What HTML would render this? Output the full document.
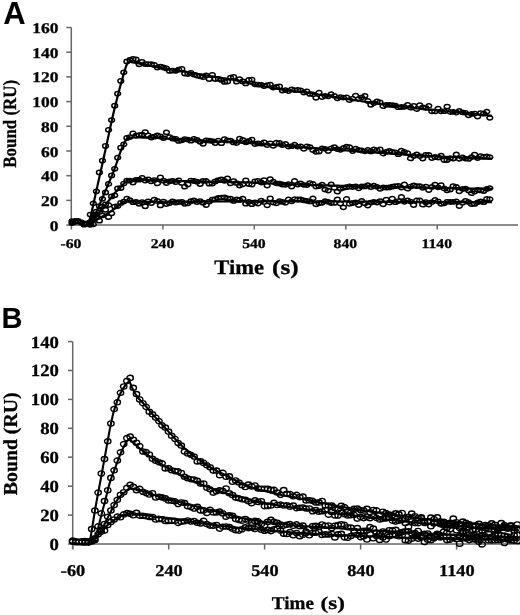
<!DOCTYPE html>
<html><head><meta charset="utf-8"><style>
html,body{margin:0;padding:0;background:#fff;width:520px;height:615px;overflow:hidden}
svg{display:block;filter:grayscale(1) blur(0.3px)}
</style></head><body>
<svg width="520" height="615" viewBox="0 0 520 615">
<g stroke="#666" stroke-width="1.5" fill="none">
<path d="M71.3,27.5 V225 H518"/>
<path d="M66.3,225.1 H71.3"/>
<path d="M66.3,200.4 H71.3"/>
<path d="M66.3,175.7 H71.3"/>
<path d="M66.3,151.0 H71.3"/>
<path d="M66.3,126.3 H71.3"/>
<path d="M66.3,101.6 H71.3"/>
<path d="M66.3,76.9 H71.3"/>
<path d="M66.3,52.2 H71.3"/>
<path d="M66.3,27.5 H71.3"/>
<path d="M71.4,225 V229.5"/>
<path d="M162.9,225 V229.5"/>
<path d="M254.3,225 V229.5"/>
<path d="M345.8,225 V229.5"/>
<path d="M437.2,225 V229.5"/>
</g>
<g stroke="#666" stroke-width="1.5" fill="none">
<path d="M72.7,341.8 V549 M72.7,543.9 H520"/>
<path d="M68,544.0 H72.7"/>
<path d="M68,515.1 H72.7"/>
<path d="M68,486.2 H72.7"/>
<path d="M68,457.2 H72.7"/>
<path d="M68,428.3 H72.7"/>
<path d="M68,399.4 H72.7"/>
<path d="M68,370.5 H72.7"/>
<path d="M68,341.6 H72.7"/>
<path d="M72.7,543.9 V549.5"/>
<path d="M168.7,543.9 V549.5"/>
<path d="M264.6,543.9 V549.5"/>
<path d="M360.6,543.9 V549.5"/>
<path d="M456.6,543.9 V549.5"/>
</g>
<path d="M69.1,223.1a2.9,2.15 0 1,0 5.8,0a2.9,2.15 0 1,0 -5.8,0M72.1,222.0a2.9,2.15 0 1,0 5.8,0a2.9,2.15 0 1,0 -5.8,0M75.2,221.4a2.9,2.15 0 1,0 5.8,0a2.9,2.15 0 1,0 -5.8,0M78.2,222.1a2.9,2.15 0 1,0 5.8,0a2.9,2.15 0 1,0 -5.8,0M81.3,223.5a2.9,2.15 0 1,0 5.8,0a2.9,2.15 0 1,0 -5.8,0M84.3,223.5a2.9,2.15 0 1,0 5.8,0a2.9,2.15 0 1,0 -5.8,0M87.4,214.6a2.9,2.15 0 1,0 5.8,0a2.9,2.15 0 1,0 -5.8,0M90.4,203.4a2.9,2.15 0 1,0 5.8,0a2.9,2.15 0 1,0 -5.8,0M93.5,191.3a2.9,2.15 0 1,0 5.8,0a2.9,2.15 0 1,0 -5.8,0M96.5,172.5a2.9,2.15 0 1,0 5.8,0a2.9,2.15 0 1,0 -5.8,0M99.6,160.7a2.9,2.15 0 1,0 5.8,0a2.9,2.15 0 1,0 -5.8,0M102.6,146.0a2.9,2.15 0 1,0 5.8,0a2.9,2.15 0 1,0 -5.8,0M105.7,129.8a2.9,2.15 0 1,0 5.8,0a2.9,2.15 0 1,0 -5.8,0M108.7,120.1a2.9,2.15 0 1,0 5.8,0a2.9,2.15 0 1,0 -5.8,0M111.8,105.7a2.9,2.15 0 1,0 5.8,0a2.9,2.15 0 1,0 -5.8,0M114.8,93.7a2.9,2.15 0 1,0 5.8,0a2.9,2.15 0 1,0 -5.8,0M117.9,80.9a2.9,2.15 0 1,0 5.8,0a2.9,2.15 0 1,0 -5.8,0M120.9,72.3a2.9,2.15 0 1,0 5.8,0a2.9,2.15 0 1,0 -5.8,0M124.0,61.4a2.9,2.15 0 1,0 5.8,0a2.9,2.15 0 1,0 -5.8,0M127.0,59.9a2.9,2.15 0 1,0 5.8,0a2.9,2.15 0 1,0 -5.8,0M130.1,58.8a2.9,2.15 0 1,0 5.8,0a2.9,2.15 0 1,0 -5.8,0M133.1,59.3a2.9,2.15 0 1,0 5.8,0a2.9,2.15 0 1,0 -5.8,0M136.2,64.3a2.9,2.15 0 1,0 5.8,0a2.9,2.15 0 1,0 -5.8,0M139.2,61.9a2.9,2.15 0 1,0 5.8,0a2.9,2.15 0 1,0 -5.8,0M142.3,64.0a2.9,2.15 0 1,0 5.8,0a2.9,2.15 0 1,0 -5.8,0M145.3,64.2a2.9,2.15 0 1,0 5.8,0a2.9,2.15 0 1,0 -5.8,0M148.4,64.2a2.9,2.15 0 1,0 5.8,0a2.9,2.15 0 1,0 -5.8,0M151.4,64.9a2.9,2.15 0 1,0 5.8,0a2.9,2.15 0 1,0 -5.8,0M154.5,67.6a2.9,2.15 0 1,0 5.8,0a2.9,2.15 0 1,0 -5.8,0M157.5,66.6a2.9,2.15 0 1,0 5.8,0a2.9,2.15 0 1,0 -5.8,0M160.6,67.5a2.9,2.15 0 1,0 5.8,0a2.9,2.15 0 1,0 -5.8,0M163.6,68.4a2.9,2.15 0 1,0 5.8,0a2.9,2.15 0 1,0 -5.8,0M166.7,70.9a2.9,2.15 0 1,0 5.8,0a2.9,2.15 0 1,0 -5.8,0M169.7,70.7a2.9,2.15 0 1,0 5.8,0a2.9,2.15 0 1,0 -5.8,0M172.8,70.8a2.9,2.15 0 1,0 5.8,0a2.9,2.15 0 1,0 -5.8,0M175.8,69.7a2.9,2.15 0 1,0 5.8,0a2.9,2.15 0 1,0 -5.8,0M178.9,68.9a2.9,2.15 0 1,0 5.8,0a2.9,2.15 0 1,0 -5.8,0M181.9,73.5a2.9,2.15 0 1,0 5.8,0a2.9,2.15 0 1,0 -5.8,0M185.0,74.1a2.9,2.15 0 1,0 5.8,0a2.9,2.15 0 1,0 -5.8,0M188.0,72.9a2.9,2.15 0 1,0 5.8,0a2.9,2.15 0 1,0 -5.8,0M191.1,74.6a2.9,2.15 0 1,0 5.8,0a2.9,2.15 0 1,0 -5.8,0M194.1,75.6a2.9,2.15 0 1,0 5.8,0a2.9,2.15 0 1,0 -5.8,0M197.2,76.3a2.9,2.15 0 1,0 5.8,0a2.9,2.15 0 1,0 -5.8,0M200.2,77.1a2.9,2.15 0 1,0 5.8,0a2.9,2.15 0 1,0 -5.8,0M203.3,75.3a2.9,2.15 0 1,0 5.8,0a2.9,2.15 0 1,0 -5.8,0M206.3,79.1a2.9,2.15 0 1,0 5.8,0a2.9,2.15 0 1,0 -5.8,0M209.4,75.0a2.9,2.15 0 1,0 5.8,0a2.9,2.15 0 1,0 -5.8,0M212.4,79.0a2.9,2.15 0 1,0 5.8,0a2.9,2.15 0 1,0 -5.8,0M215.5,78.8a2.9,2.15 0 1,0 5.8,0a2.9,2.15 0 1,0 -5.8,0M218.5,79.9a2.9,2.15 0 1,0 5.8,0a2.9,2.15 0 1,0 -5.8,0M221.6,81.9a2.9,2.15 0 1,0 5.8,0a2.9,2.15 0 1,0 -5.8,0M224.6,81.7a2.9,2.15 0 1,0 5.8,0a2.9,2.15 0 1,0 -5.8,0M227.7,77.6a2.9,2.15 0 1,0 5.8,0a2.9,2.15 0 1,0 -5.8,0M230.7,77.0a2.9,2.15 0 1,0 5.8,0a2.9,2.15 0 1,0 -5.8,0M233.8,81.7a2.9,2.15 0 1,0 5.8,0a2.9,2.15 0 1,0 -5.8,0M236.8,79.1a2.9,2.15 0 1,0 5.8,0a2.9,2.15 0 1,0 -5.8,0M239.9,81.4a2.9,2.15 0 1,0 5.8,0a2.9,2.15 0 1,0 -5.8,0M242.9,83.4a2.9,2.15 0 1,0 5.8,0a2.9,2.15 0 1,0 -5.8,0M246.0,79.9a2.9,2.15 0 1,0 5.8,0a2.9,2.15 0 1,0 -5.8,0M249.0,79.7a2.9,2.15 0 1,0 5.8,0a2.9,2.15 0 1,0 -5.8,0M252.1,84.4a2.9,2.15 0 1,0 5.8,0a2.9,2.15 0 1,0 -5.8,0M255.1,84.7a2.9,2.15 0 1,0 5.8,0a2.9,2.15 0 1,0 -5.8,0M258.2,84.8a2.9,2.15 0 1,0 5.8,0a2.9,2.15 0 1,0 -5.8,0M261.2,86.0a2.9,2.15 0 1,0 5.8,0a2.9,2.15 0 1,0 -5.8,0M264.3,85.1a2.9,2.15 0 1,0 5.8,0a2.9,2.15 0 1,0 -5.8,0M267.3,84.7a2.9,2.15 0 1,0 5.8,0a2.9,2.15 0 1,0 -5.8,0M270.4,87.7a2.9,2.15 0 1,0 5.8,0a2.9,2.15 0 1,0 -5.8,0M273.4,86.9a2.9,2.15 0 1,0 5.8,0a2.9,2.15 0 1,0 -5.8,0M276.5,86.4a2.9,2.15 0 1,0 5.8,0a2.9,2.15 0 1,0 -5.8,0M279.5,90.6a2.9,2.15 0 1,0 5.8,0a2.9,2.15 0 1,0 -5.8,0M282.6,90.1a2.9,2.15 0 1,0 5.8,0a2.9,2.15 0 1,0 -5.8,0M285.6,91.2a2.9,2.15 0 1,0 5.8,0a2.9,2.15 0 1,0 -5.8,0M288.7,89.3a2.9,2.15 0 1,0 5.8,0a2.9,2.15 0 1,0 -5.8,0M291.7,90.2a2.9,2.15 0 1,0 5.8,0a2.9,2.15 0 1,0 -5.8,0M294.8,89.9a2.9,2.15 0 1,0 5.8,0a2.9,2.15 0 1,0 -5.8,0M297.8,90.4a2.9,2.15 0 1,0 5.8,0a2.9,2.15 0 1,0 -5.8,0M300.9,92.6a2.9,2.15 0 1,0 5.8,0a2.9,2.15 0 1,0 -5.8,0M303.9,91.4a2.9,2.15 0 1,0 5.8,0a2.9,2.15 0 1,0 -5.8,0M307.0,93.9a2.9,2.15 0 1,0 5.8,0a2.9,2.15 0 1,0 -5.8,0M310.0,94.4a2.9,2.15 0 1,0 5.8,0a2.9,2.15 0 1,0 -5.8,0M313.1,97.8a2.9,2.15 0 1,0 5.8,0a2.9,2.15 0 1,0 -5.8,0M316.1,92.6a2.9,2.15 0 1,0 5.8,0a2.9,2.15 0 1,0 -5.8,0M319.2,97.0a2.9,2.15 0 1,0 5.8,0a2.9,2.15 0 1,0 -5.8,0M322.2,95.8a2.9,2.15 0 1,0 5.8,0a2.9,2.15 0 1,0 -5.8,0M325.3,96.3a2.9,2.15 0 1,0 5.8,0a2.9,2.15 0 1,0 -5.8,0M328.3,94.1a2.9,2.15 0 1,0 5.8,0a2.9,2.15 0 1,0 -5.8,0M331.4,96.0a2.9,2.15 0 1,0 5.8,0a2.9,2.15 0 1,0 -5.8,0M334.4,98.3a2.9,2.15 0 1,0 5.8,0a2.9,2.15 0 1,0 -5.8,0M337.5,97.1a2.9,2.15 0 1,0 5.8,0a2.9,2.15 0 1,0 -5.8,0M340.5,97.6a2.9,2.15 0 1,0 5.8,0a2.9,2.15 0 1,0 -5.8,0M343.6,97.3a2.9,2.15 0 1,0 5.8,0a2.9,2.15 0 1,0 -5.8,0M346.6,100.2a2.9,2.15 0 1,0 5.8,0a2.9,2.15 0 1,0 -5.8,0M349.7,98.7a2.9,2.15 0 1,0 5.8,0a2.9,2.15 0 1,0 -5.8,0M352.7,95.6a2.9,2.15 0 1,0 5.8,0a2.9,2.15 0 1,0 -5.8,0M355.8,98.8a2.9,2.15 0 1,0 5.8,0a2.9,2.15 0 1,0 -5.8,0M358.8,97.3a2.9,2.15 0 1,0 5.8,0a2.9,2.15 0 1,0 -5.8,0M361.9,95.8a2.9,2.15 0 1,0 5.8,0a2.9,2.15 0 1,0 -5.8,0M364.9,101.0a2.9,2.15 0 1,0 5.8,0a2.9,2.15 0 1,0 -5.8,0M368.0,104.8a2.9,2.15 0 1,0 5.8,0a2.9,2.15 0 1,0 -5.8,0M371.0,103.1a2.9,2.15 0 1,0 5.8,0a2.9,2.15 0 1,0 -5.8,0M374.1,101.5a2.9,2.15 0 1,0 5.8,0a2.9,2.15 0 1,0 -5.8,0M377.1,102.3a2.9,2.15 0 1,0 5.8,0a2.9,2.15 0 1,0 -5.8,0M380.2,106.2a2.9,2.15 0 1,0 5.8,0a2.9,2.15 0 1,0 -5.8,0M383.2,104.8a2.9,2.15 0 1,0 5.8,0a2.9,2.15 0 1,0 -5.8,0M386.3,104.9a2.9,2.15 0 1,0 5.8,0a2.9,2.15 0 1,0 -5.8,0M389.3,105.1a2.9,2.15 0 1,0 5.8,0a2.9,2.15 0 1,0 -5.8,0M392.4,105.6a2.9,2.15 0 1,0 5.8,0a2.9,2.15 0 1,0 -5.8,0M395.4,107.2a2.9,2.15 0 1,0 5.8,0a2.9,2.15 0 1,0 -5.8,0M398.5,107.0a2.9,2.15 0 1,0 5.8,0a2.9,2.15 0 1,0 -5.8,0M401.5,106.8a2.9,2.15 0 1,0 5.8,0a2.9,2.15 0 1,0 -5.8,0M404.6,104.8a2.9,2.15 0 1,0 5.8,0a2.9,2.15 0 1,0 -5.8,0M407.6,107.7a2.9,2.15 0 1,0 5.8,0a2.9,2.15 0 1,0 -5.8,0M410.7,105.8a2.9,2.15 0 1,0 5.8,0a2.9,2.15 0 1,0 -5.8,0M413.7,109.0a2.9,2.15 0 1,0 5.8,0a2.9,2.15 0 1,0 -5.8,0M416.8,105.1a2.9,2.15 0 1,0 5.8,0a2.9,2.15 0 1,0 -5.8,0M419.8,107.3a2.9,2.15 0 1,0 5.8,0a2.9,2.15 0 1,0 -5.8,0M422.9,107.8a2.9,2.15 0 1,0 5.8,0a2.9,2.15 0 1,0 -5.8,0M425.9,105.8a2.9,2.15 0 1,0 5.8,0a2.9,2.15 0 1,0 -5.8,0M429.0,111.4a2.9,2.15 0 1,0 5.8,0a2.9,2.15 0 1,0 -5.8,0M432.0,111.4a2.9,2.15 0 1,0 5.8,0a2.9,2.15 0 1,0 -5.8,0M435.1,108.6a2.9,2.15 0 1,0 5.8,0a2.9,2.15 0 1,0 -5.8,0M438.1,111.3a2.9,2.15 0 1,0 5.8,0a2.9,2.15 0 1,0 -5.8,0M441.2,111.2a2.9,2.15 0 1,0 5.8,0a2.9,2.15 0 1,0 -5.8,0M444.2,106.6a2.9,2.15 0 1,0 5.8,0a2.9,2.15 0 1,0 -5.8,0M447.3,112.0a2.9,2.15 0 1,0 5.8,0a2.9,2.15 0 1,0 -5.8,0M450.3,111.9a2.9,2.15 0 1,0 5.8,0a2.9,2.15 0 1,0 -5.8,0M453.4,112.5a2.9,2.15 0 1,0 5.8,0a2.9,2.15 0 1,0 -5.8,0M456.4,110.9a2.9,2.15 0 1,0 5.8,0a2.9,2.15 0 1,0 -5.8,0M459.5,112.4a2.9,2.15 0 1,0 5.8,0a2.9,2.15 0 1,0 -5.8,0M462.5,112.8a2.9,2.15 0 1,0 5.8,0a2.9,2.15 0 1,0 -5.8,0M465.6,115.3a2.9,2.15 0 1,0 5.8,0a2.9,2.15 0 1,0 -5.8,0M468.6,114.0a2.9,2.15 0 1,0 5.8,0a2.9,2.15 0 1,0 -5.8,0M471.7,113.6a2.9,2.15 0 1,0 5.8,0a2.9,2.15 0 1,0 -5.8,0M474.7,116.5a2.9,2.15 0 1,0 5.8,0a2.9,2.15 0 1,0 -5.8,0M477.8,113.2a2.9,2.15 0 1,0 5.8,0a2.9,2.15 0 1,0 -5.8,0M480.8,113.7a2.9,2.15 0 1,0 5.8,0a2.9,2.15 0 1,0 -5.8,0M483.9,111.6a2.9,2.15 0 1,0 5.8,0a2.9,2.15 0 1,0 -5.8,0M486.9,117.8a2.9,2.15 0 1,0 5.8,0a2.9,2.15 0 1,0 -5.8,0M69.1,221.1a2.9,2.15 0 1,0 5.8,0a2.9,2.15 0 1,0 -5.8,0M72.1,222.2a2.9,2.15 0 1,0 5.8,0a2.9,2.15 0 1,0 -5.8,0M75.2,221.2a2.9,2.15 0 1,0 5.8,0a2.9,2.15 0 1,0 -5.8,0M78.2,222.7a2.9,2.15 0 1,0 5.8,0a2.9,2.15 0 1,0 -5.8,0M81.3,224.5a2.9,2.15 0 1,0 5.8,0a2.9,2.15 0 1,0 -5.8,0M84.3,223.8a2.9,2.15 0 1,0 5.8,0a2.9,2.15 0 1,0 -5.8,0M87.4,222.1a2.9,2.15 0 1,0 5.8,0a2.9,2.15 0 1,0 -5.8,0M90.4,217.1a2.9,2.15 0 1,0 5.8,0a2.9,2.15 0 1,0 -5.8,0M93.5,211.6a2.9,2.15 0 1,0 5.8,0a2.9,2.15 0 1,0 -5.8,0M96.5,206.1a2.9,2.15 0 1,0 5.8,0a2.9,2.15 0 1,0 -5.8,0M99.6,198.8a2.9,2.15 0 1,0 5.8,0a2.9,2.15 0 1,0 -5.8,0M102.6,192.4a2.9,2.15 0 1,0 5.8,0a2.9,2.15 0 1,0 -5.8,0M105.7,184.0a2.9,2.15 0 1,0 5.8,0a2.9,2.15 0 1,0 -5.8,0M108.7,175.5a2.9,2.15 0 1,0 5.8,0a2.9,2.15 0 1,0 -5.8,0M111.8,168.8a2.9,2.15 0 1,0 5.8,0a2.9,2.15 0 1,0 -5.8,0M114.8,157.7a2.9,2.15 0 1,0 5.8,0a2.9,2.15 0 1,0 -5.8,0M117.9,147.7a2.9,2.15 0 1,0 5.8,0a2.9,2.15 0 1,0 -5.8,0M120.9,144.3a2.9,2.15 0 1,0 5.8,0a2.9,2.15 0 1,0 -5.8,0M124.0,138.0a2.9,2.15 0 1,0 5.8,0a2.9,2.15 0 1,0 -5.8,0M127.0,137.1a2.9,2.15 0 1,0 5.8,0a2.9,2.15 0 1,0 -5.8,0M130.1,133.5a2.9,2.15 0 1,0 5.8,0a2.9,2.15 0 1,0 -5.8,0M133.1,135.6a2.9,2.15 0 1,0 5.8,0a2.9,2.15 0 1,0 -5.8,0M136.2,135.1a2.9,2.15 0 1,0 5.8,0a2.9,2.15 0 1,0 -5.8,0M139.2,134.6a2.9,2.15 0 1,0 5.8,0a2.9,2.15 0 1,0 -5.8,0M142.3,132.1a2.9,2.15 0 1,0 5.8,0a2.9,2.15 0 1,0 -5.8,0M145.3,135.4a2.9,2.15 0 1,0 5.8,0a2.9,2.15 0 1,0 -5.8,0M148.4,137.5a2.9,2.15 0 1,0 5.8,0a2.9,2.15 0 1,0 -5.8,0M151.4,136.7a2.9,2.15 0 1,0 5.8,0a2.9,2.15 0 1,0 -5.8,0M154.5,135.3a2.9,2.15 0 1,0 5.8,0a2.9,2.15 0 1,0 -5.8,0M157.5,136.5a2.9,2.15 0 1,0 5.8,0a2.9,2.15 0 1,0 -5.8,0M160.6,138.1a2.9,2.15 0 1,0 5.8,0a2.9,2.15 0 1,0 -5.8,0M163.6,132.3a2.9,2.15 0 1,0 5.8,0a2.9,2.15 0 1,0 -5.8,0M166.7,137.1a2.9,2.15 0 1,0 5.8,0a2.9,2.15 0 1,0 -5.8,0M169.7,138.5a2.9,2.15 0 1,0 5.8,0a2.9,2.15 0 1,0 -5.8,0M172.8,139.0a2.9,2.15 0 1,0 5.8,0a2.9,2.15 0 1,0 -5.8,0M175.8,140.9a2.9,2.15 0 1,0 5.8,0a2.9,2.15 0 1,0 -5.8,0M178.9,140.3a2.9,2.15 0 1,0 5.8,0a2.9,2.15 0 1,0 -5.8,0M181.9,139.2a2.9,2.15 0 1,0 5.8,0a2.9,2.15 0 1,0 -5.8,0M185.0,139.6a2.9,2.15 0 1,0 5.8,0a2.9,2.15 0 1,0 -5.8,0M188.0,140.7a2.9,2.15 0 1,0 5.8,0a2.9,2.15 0 1,0 -5.8,0M191.1,138.8a2.9,2.15 0 1,0 5.8,0a2.9,2.15 0 1,0 -5.8,0M194.1,139.9a2.9,2.15 0 1,0 5.8,0a2.9,2.15 0 1,0 -5.8,0M197.2,141.8a2.9,2.15 0 1,0 5.8,0a2.9,2.15 0 1,0 -5.8,0M200.2,143.8a2.9,2.15 0 1,0 5.8,0a2.9,2.15 0 1,0 -5.8,0M203.3,140.4a2.9,2.15 0 1,0 5.8,0a2.9,2.15 0 1,0 -5.8,0M206.3,140.6a2.9,2.15 0 1,0 5.8,0a2.9,2.15 0 1,0 -5.8,0M209.4,141.1a2.9,2.15 0 1,0 5.8,0a2.9,2.15 0 1,0 -5.8,0M212.4,143.0a2.9,2.15 0 1,0 5.8,0a2.9,2.15 0 1,0 -5.8,0M215.5,140.7a2.9,2.15 0 1,0 5.8,0a2.9,2.15 0 1,0 -5.8,0M218.5,143.2a2.9,2.15 0 1,0 5.8,0a2.9,2.15 0 1,0 -5.8,0M221.6,139.1a2.9,2.15 0 1,0 5.8,0a2.9,2.15 0 1,0 -5.8,0M224.6,140.5a2.9,2.15 0 1,0 5.8,0a2.9,2.15 0 1,0 -5.8,0M227.7,140.6a2.9,2.15 0 1,0 5.8,0a2.9,2.15 0 1,0 -5.8,0M230.7,142.4a2.9,2.15 0 1,0 5.8,0a2.9,2.15 0 1,0 -5.8,0M233.8,143.0a2.9,2.15 0 1,0 5.8,0a2.9,2.15 0 1,0 -5.8,0M236.8,138.7a2.9,2.15 0 1,0 5.8,0a2.9,2.15 0 1,0 -5.8,0M239.9,139.9a2.9,2.15 0 1,0 5.8,0a2.9,2.15 0 1,0 -5.8,0M242.9,142.3a2.9,2.15 0 1,0 5.8,0a2.9,2.15 0 1,0 -5.8,0M246.0,140.8a2.9,2.15 0 1,0 5.8,0a2.9,2.15 0 1,0 -5.8,0M249.0,139.6a2.9,2.15 0 1,0 5.8,0a2.9,2.15 0 1,0 -5.8,0M252.1,144.1a2.9,2.15 0 1,0 5.8,0a2.9,2.15 0 1,0 -5.8,0M255.1,143.4a2.9,2.15 0 1,0 5.8,0a2.9,2.15 0 1,0 -5.8,0M258.2,143.7a2.9,2.15 0 1,0 5.8,0a2.9,2.15 0 1,0 -5.8,0M261.2,142.4a2.9,2.15 0 1,0 5.8,0a2.9,2.15 0 1,0 -5.8,0M264.3,145.2a2.9,2.15 0 1,0 5.8,0a2.9,2.15 0 1,0 -5.8,0M267.3,143.3a2.9,2.15 0 1,0 5.8,0a2.9,2.15 0 1,0 -5.8,0M270.4,145.9a2.9,2.15 0 1,0 5.8,0a2.9,2.15 0 1,0 -5.8,0M273.4,142.6a2.9,2.15 0 1,0 5.8,0a2.9,2.15 0 1,0 -5.8,0M276.5,142.9a2.9,2.15 0 1,0 5.8,0a2.9,2.15 0 1,0 -5.8,0M279.5,145.0a2.9,2.15 0 1,0 5.8,0a2.9,2.15 0 1,0 -5.8,0M282.6,143.8a2.9,2.15 0 1,0 5.8,0a2.9,2.15 0 1,0 -5.8,0M285.6,146.5a2.9,2.15 0 1,0 5.8,0a2.9,2.15 0 1,0 -5.8,0M288.7,146.2a2.9,2.15 0 1,0 5.8,0a2.9,2.15 0 1,0 -5.8,0M291.7,144.6a2.9,2.15 0 1,0 5.8,0a2.9,2.15 0 1,0 -5.8,0M294.8,146.6a2.9,2.15 0 1,0 5.8,0a2.9,2.15 0 1,0 -5.8,0M297.8,146.3a2.9,2.15 0 1,0 5.8,0a2.9,2.15 0 1,0 -5.8,0M300.9,148.9a2.9,2.15 0 1,0 5.8,0a2.9,2.15 0 1,0 -5.8,0M303.9,146.5a2.9,2.15 0 1,0 5.8,0a2.9,2.15 0 1,0 -5.8,0M307.0,147.1a2.9,2.15 0 1,0 5.8,0a2.9,2.15 0 1,0 -5.8,0M310.0,150.1a2.9,2.15 0 1,0 5.8,0a2.9,2.15 0 1,0 -5.8,0M313.1,151.9a2.9,2.15 0 1,0 5.8,0a2.9,2.15 0 1,0 -5.8,0M316.1,151.6a2.9,2.15 0 1,0 5.8,0a2.9,2.15 0 1,0 -5.8,0M319.2,148.4a2.9,2.15 0 1,0 5.8,0a2.9,2.15 0 1,0 -5.8,0M322.2,148.8a2.9,2.15 0 1,0 5.8,0a2.9,2.15 0 1,0 -5.8,0M325.3,151.1a2.9,2.15 0 1,0 5.8,0a2.9,2.15 0 1,0 -5.8,0M328.3,148.4a2.9,2.15 0 1,0 5.8,0a2.9,2.15 0 1,0 -5.8,0M331.4,147.1a2.9,2.15 0 1,0 5.8,0a2.9,2.15 0 1,0 -5.8,0M334.4,149.2a2.9,2.15 0 1,0 5.8,0a2.9,2.15 0 1,0 -5.8,0M337.5,149.9a2.9,2.15 0 1,0 5.8,0a2.9,2.15 0 1,0 -5.8,0M340.5,148.0a2.9,2.15 0 1,0 5.8,0a2.9,2.15 0 1,0 -5.8,0M343.6,146.7a2.9,2.15 0 1,0 5.8,0a2.9,2.15 0 1,0 -5.8,0M346.6,147.2a2.9,2.15 0 1,0 5.8,0a2.9,2.15 0 1,0 -5.8,0M349.7,151.0a2.9,2.15 0 1,0 5.8,0a2.9,2.15 0 1,0 -5.8,0M352.7,148.6a2.9,2.15 0 1,0 5.8,0a2.9,2.15 0 1,0 -5.8,0M355.8,149.8a2.9,2.15 0 1,0 5.8,0a2.9,2.15 0 1,0 -5.8,0M358.8,150.5a2.9,2.15 0 1,0 5.8,0a2.9,2.15 0 1,0 -5.8,0M361.9,151.3a2.9,2.15 0 1,0 5.8,0a2.9,2.15 0 1,0 -5.8,0M364.9,149.8a2.9,2.15 0 1,0 5.8,0a2.9,2.15 0 1,0 -5.8,0M368.0,151.4a2.9,2.15 0 1,0 5.8,0a2.9,2.15 0 1,0 -5.8,0M371.0,149.3a2.9,2.15 0 1,0 5.8,0a2.9,2.15 0 1,0 -5.8,0M374.1,150.4a2.9,2.15 0 1,0 5.8,0a2.9,2.15 0 1,0 -5.8,0M377.1,149.5a2.9,2.15 0 1,0 5.8,0a2.9,2.15 0 1,0 -5.8,0M380.2,153.5a2.9,2.15 0 1,0 5.8,0a2.9,2.15 0 1,0 -5.8,0M383.2,151.8a2.9,2.15 0 1,0 5.8,0a2.9,2.15 0 1,0 -5.8,0M386.3,150.9a2.9,2.15 0 1,0 5.8,0a2.9,2.15 0 1,0 -5.8,0M389.3,151.9a2.9,2.15 0 1,0 5.8,0a2.9,2.15 0 1,0 -5.8,0M392.4,152.3a2.9,2.15 0 1,0 5.8,0a2.9,2.15 0 1,0 -5.8,0M395.4,154.2a2.9,2.15 0 1,0 5.8,0a2.9,2.15 0 1,0 -5.8,0M398.5,150.6a2.9,2.15 0 1,0 5.8,0a2.9,2.15 0 1,0 -5.8,0M401.5,151.8a2.9,2.15 0 1,0 5.8,0a2.9,2.15 0 1,0 -5.8,0M404.6,153.2a2.9,2.15 0 1,0 5.8,0a2.9,2.15 0 1,0 -5.8,0M407.6,158.4a2.9,2.15 0 1,0 5.8,0a2.9,2.15 0 1,0 -5.8,0M410.7,156.0a2.9,2.15 0 1,0 5.8,0a2.9,2.15 0 1,0 -5.8,0M413.7,154.4a2.9,2.15 0 1,0 5.8,0a2.9,2.15 0 1,0 -5.8,0M416.8,156.1a2.9,2.15 0 1,0 5.8,0a2.9,2.15 0 1,0 -5.8,0M419.8,158.6a2.9,2.15 0 1,0 5.8,0a2.9,2.15 0 1,0 -5.8,0M422.9,155.0a2.9,2.15 0 1,0 5.8,0a2.9,2.15 0 1,0 -5.8,0M425.9,155.0a2.9,2.15 0 1,0 5.8,0a2.9,2.15 0 1,0 -5.8,0M429.0,158.0a2.9,2.15 0 1,0 5.8,0a2.9,2.15 0 1,0 -5.8,0M432.0,157.0a2.9,2.15 0 1,0 5.8,0a2.9,2.15 0 1,0 -5.8,0M435.1,157.5a2.9,2.15 0 1,0 5.8,0a2.9,2.15 0 1,0 -5.8,0M438.1,155.7a2.9,2.15 0 1,0 5.8,0a2.9,2.15 0 1,0 -5.8,0M441.2,160.1a2.9,2.15 0 1,0 5.8,0a2.9,2.15 0 1,0 -5.8,0M444.2,160.0a2.9,2.15 0 1,0 5.8,0a2.9,2.15 0 1,0 -5.8,0M447.3,158.2a2.9,2.15 0 1,0 5.8,0a2.9,2.15 0 1,0 -5.8,0M450.3,158.6a2.9,2.15 0 1,0 5.8,0a2.9,2.15 0 1,0 -5.8,0M453.4,154.3a2.9,2.15 0 1,0 5.8,0a2.9,2.15 0 1,0 -5.8,0M456.4,158.8a2.9,2.15 0 1,0 5.8,0a2.9,2.15 0 1,0 -5.8,0M459.5,157.5a2.9,2.15 0 1,0 5.8,0a2.9,2.15 0 1,0 -5.8,0M462.5,158.6a2.9,2.15 0 1,0 5.8,0a2.9,2.15 0 1,0 -5.8,0M465.6,158.9a2.9,2.15 0 1,0 5.8,0a2.9,2.15 0 1,0 -5.8,0M468.6,157.1a2.9,2.15 0 1,0 5.8,0a2.9,2.15 0 1,0 -5.8,0M471.7,154.7a2.9,2.15 0 1,0 5.8,0a2.9,2.15 0 1,0 -5.8,0M474.7,158.1a2.9,2.15 0 1,0 5.8,0a2.9,2.15 0 1,0 -5.8,0M477.8,156.1a2.9,2.15 0 1,0 5.8,0a2.9,2.15 0 1,0 -5.8,0M480.8,156.8a2.9,2.15 0 1,0 5.8,0a2.9,2.15 0 1,0 -5.8,0M483.9,156.5a2.9,2.15 0 1,0 5.8,0a2.9,2.15 0 1,0 -5.8,0M486.9,157.2a2.9,2.15 0 1,0 5.8,0a2.9,2.15 0 1,0 -5.8,0M69.1,222.5a2.9,2.15 0 1,0 5.8,0a2.9,2.15 0 1,0 -5.8,0M72.1,220.9a2.9,2.15 0 1,0 5.8,0a2.9,2.15 0 1,0 -5.8,0M75.2,221.0a2.9,2.15 0 1,0 5.8,0a2.9,2.15 0 1,0 -5.8,0M78.2,222.1a2.9,2.15 0 1,0 5.8,0a2.9,2.15 0 1,0 -5.8,0M81.3,224.7a2.9,2.15 0 1,0 5.8,0a2.9,2.15 0 1,0 -5.8,0M84.3,223.3a2.9,2.15 0 1,0 5.8,0a2.9,2.15 0 1,0 -5.8,0M87.4,223.3a2.9,2.15 0 1,0 5.8,0a2.9,2.15 0 1,0 -5.8,0M90.4,219.2a2.9,2.15 0 1,0 5.8,0a2.9,2.15 0 1,0 -5.8,0M93.5,214.7a2.9,2.15 0 1,0 5.8,0a2.9,2.15 0 1,0 -5.8,0M96.5,212.1a2.9,2.15 0 1,0 5.8,0a2.9,2.15 0 1,0 -5.8,0M99.6,206.6a2.9,2.15 0 1,0 5.8,0a2.9,2.15 0 1,0 -5.8,0M102.6,204.5a2.9,2.15 0 1,0 5.8,0a2.9,2.15 0 1,0 -5.8,0M105.7,205.0a2.9,2.15 0 1,0 5.8,0a2.9,2.15 0 1,0 -5.8,0M108.7,196.4a2.9,2.15 0 1,0 5.8,0a2.9,2.15 0 1,0 -5.8,0M111.8,195.3a2.9,2.15 0 1,0 5.8,0a2.9,2.15 0 1,0 -5.8,0M114.8,188.4a2.9,2.15 0 1,0 5.8,0a2.9,2.15 0 1,0 -5.8,0M117.9,188.0a2.9,2.15 0 1,0 5.8,0a2.9,2.15 0 1,0 -5.8,0M120.9,183.6a2.9,2.15 0 1,0 5.8,0a2.9,2.15 0 1,0 -5.8,0M124.0,180.6a2.9,2.15 0 1,0 5.8,0a2.9,2.15 0 1,0 -5.8,0M127.0,180.6a2.9,2.15 0 1,0 5.8,0a2.9,2.15 0 1,0 -5.8,0M130.1,182.6a2.9,2.15 0 1,0 5.8,0a2.9,2.15 0 1,0 -5.8,0M133.1,179.8a2.9,2.15 0 1,0 5.8,0a2.9,2.15 0 1,0 -5.8,0M136.2,179.7a2.9,2.15 0 1,0 5.8,0a2.9,2.15 0 1,0 -5.8,0M139.2,177.8a2.9,2.15 0 1,0 5.8,0a2.9,2.15 0 1,0 -5.8,0M142.3,180.5a2.9,2.15 0 1,0 5.8,0a2.9,2.15 0 1,0 -5.8,0M145.3,179.3a2.9,2.15 0 1,0 5.8,0a2.9,2.15 0 1,0 -5.8,0M148.4,181.3a2.9,2.15 0 1,0 5.8,0a2.9,2.15 0 1,0 -5.8,0M151.4,180.1a2.9,2.15 0 1,0 5.8,0a2.9,2.15 0 1,0 -5.8,0M154.5,183.4a2.9,2.15 0 1,0 5.8,0a2.9,2.15 0 1,0 -5.8,0M157.5,177.4a2.9,2.15 0 1,0 5.8,0a2.9,2.15 0 1,0 -5.8,0M160.6,180.7a2.9,2.15 0 1,0 5.8,0a2.9,2.15 0 1,0 -5.8,0M163.6,183.1a2.9,2.15 0 1,0 5.8,0a2.9,2.15 0 1,0 -5.8,0M166.7,181.3a2.9,2.15 0 1,0 5.8,0a2.9,2.15 0 1,0 -5.8,0M169.7,180.9a2.9,2.15 0 1,0 5.8,0a2.9,2.15 0 1,0 -5.8,0M172.8,182.0a2.9,2.15 0 1,0 5.8,0a2.9,2.15 0 1,0 -5.8,0M175.8,180.3a2.9,2.15 0 1,0 5.8,0a2.9,2.15 0 1,0 -5.8,0M178.9,182.9a2.9,2.15 0 1,0 5.8,0a2.9,2.15 0 1,0 -5.8,0M181.9,186.7a2.9,2.15 0 1,0 5.8,0a2.9,2.15 0 1,0 -5.8,0M185.0,184.5a2.9,2.15 0 1,0 5.8,0a2.9,2.15 0 1,0 -5.8,0M188.0,180.6a2.9,2.15 0 1,0 5.8,0a2.9,2.15 0 1,0 -5.8,0M191.1,181.0a2.9,2.15 0 1,0 5.8,0a2.9,2.15 0 1,0 -5.8,0M194.1,181.7a2.9,2.15 0 1,0 5.8,0a2.9,2.15 0 1,0 -5.8,0M197.2,184.0a2.9,2.15 0 1,0 5.8,0a2.9,2.15 0 1,0 -5.8,0M200.2,180.8a2.9,2.15 0 1,0 5.8,0a2.9,2.15 0 1,0 -5.8,0M203.3,181.0a2.9,2.15 0 1,0 5.8,0a2.9,2.15 0 1,0 -5.8,0M206.3,183.7a2.9,2.15 0 1,0 5.8,0a2.9,2.15 0 1,0 -5.8,0M209.4,183.6a2.9,2.15 0 1,0 5.8,0a2.9,2.15 0 1,0 -5.8,0M212.4,181.4a2.9,2.15 0 1,0 5.8,0a2.9,2.15 0 1,0 -5.8,0M215.5,180.1a2.9,2.15 0 1,0 5.8,0a2.9,2.15 0 1,0 -5.8,0M218.5,179.4a2.9,2.15 0 1,0 5.8,0a2.9,2.15 0 1,0 -5.8,0M221.6,180.8a2.9,2.15 0 1,0 5.8,0a2.9,2.15 0 1,0 -5.8,0M224.6,178.3a2.9,2.15 0 1,0 5.8,0a2.9,2.15 0 1,0 -5.8,0M227.7,183.4a2.9,2.15 0 1,0 5.8,0a2.9,2.15 0 1,0 -5.8,0M230.7,181.1a2.9,2.15 0 1,0 5.8,0a2.9,2.15 0 1,0 -5.8,0M233.8,183.1a2.9,2.15 0 1,0 5.8,0a2.9,2.15 0 1,0 -5.8,0M236.8,185.6a2.9,2.15 0 1,0 5.8,0a2.9,2.15 0 1,0 -5.8,0M239.9,184.4a2.9,2.15 0 1,0 5.8,0a2.9,2.15 0 1,0 -5.8,0M242.9,180.5a2.9,2.15 0 1,0 5.8,0a2.9,2.15 0 1,0 -5.8,0M246.0,184.0a2.9,2.15 0 1,0 5.8,0a2.9,2.15 0 1,0 -5.8,0M249.0,184.5a2.9,2.15 0 1,0 5.8,0a2.9,2.15 0 1,0 -5.8,0M252.1,181.3a2.9,2.15 0 1,0 5.8,0a2.9,2.15 0 1,0 -5.8,0M255.1,181.0a2.9,2.15 0 1,0 5.8,0a2.9,2.15 0 1,0 -5.8,0M258.2,182.5a2.9,2.15 0 1,0 5.8,0a2.9,2.15 0 1,0 -5.8,0M261.2,180.1a2.9,2.15 0 1,0 5.8,0a2.9,2.15 0 1,0 -5.8,0M264.3,185.6a2.9,2.15 0 1,0 5.8,0a2.9,2.15 0 1,0 -5.8,0M267.3,179.2a2.9,2.15 0 1,0 5.8,0a2.9,2.15 0 1,0 -5.8,0M270.4,181.7a2.9,2.15 0 1,0 5.8,0a2.9,2.15 0 1,0 -5.8,0M273.4,183.4a2.9,2.15 0 1,0 5.8,0a2.9,2.15 0 1,0 -5.8,0M276.5,183.7a2.9,2.15 0 1,0 5.8,0a2.9,2.15 0 1,0 -5.8,0M279.5,184.5a2.9,2.15 0 1,0 5.8,0a2.9,2.15 0 1,0 -5.8,0M282.6,184.9a2.9,2.15 0 1,0 5.8,0a2.9,2.15 0 1,0 -5.8,0M285.6,184.2a2.9,2.15 0 1,0 5.8,0a2.9,2.15 0 1,0 -5.8,0M288.7,186.6a2.9,2.15 0 1,0 5.8,0a2.9,2.15 0 1,0 -5.8,0M291.7,181.0a2.9,2.15 0 1,0 5.8,0a2.9,2.15 0 1,0 -5.8,0M294.8,184.6a2.9,2.15 0 1,0 5.8,0a2.9,2.15 0 1,0 -5.8,0M297.8,183.4a2.9,2.15 0 1,0 5.8,0a2.9,2.15 0 1,0 -5.8,0M300.9,184.9a2.9,2.15 0 1,0 5.8,0a2.9,2.15 0 1,0 -5.8,0M303.9,185.1a2.9,2.15 0 1,0 5.8,0a2.9,2.15 0 1,0 -5.8,0M307.0,183.2a2.9,2.15 0 1,0 5.8,0a2.9,2.15 0 1,0 -5.8,0M310.0,183.9a2.9,2.15 0 1,0 5.8,0a2.9,2.15 0 1,0 -5.8,0M313.1,186.6a2.9,2.15 0 1,0 5.8,0a2.9,2.15 0 1,0 -5.8,0M316.1,186.1a2.9,2.15 0 1,0 5.8,0a2.9,2.15 0 1,0 -5.8,0M319.2,184.7a2.9,2.15 0 1,0 5.8,0a2.9,2.15 0 1,0 -5.8,0M322.2,189.7a2.9,2.15 0 1,0 5.8,0a2.9,2.15 0 1,0 -5.8,0M325.3,190.6a2.9,2.15 0 1,0 5.8,0a2.9,2.15 0 1,0 -5.8,0M328.3,184.5a2.9,2.15 0 1,0 5.8,0a2.9,2.15 0 1,0 -5.8,0M331.4,187.8a2.9,2.15 0 1,0 5.8,0a2.9,2.15 0 1,0 -5.8,0M334.4,191.7a2.9,2.15 0 1,0 5.8,0a2.9,2.15 0 1,0 -5.8,0M337.5,188.8a2.9,2.15 0 1,0 5.8,0a2.9,2.15 0 1,0 -5.8,0M340.5,187.9a2.9,2.15 0 1,0 5.8,0a2.9,2.15 0 1,0 -5.8,0M343.6,187.2a2.9,2.15 0 1,0 5.8,0a2.9,2.15 0 1,0 -5.8,0M346.6,186.5a2.9,2.15 0 1,0 5.8,0a2.9,2.15 0 1,0 -5.8,0M349.7,187.0a2.9,2.15 0 1,0 5.8,0a2.9,2.15 0 1,0 -5.8,0M352.7,186.3a2.9,2.15 0 1,0 5.8,0a2.9,2.15 0 1,0 -5.8,0M355.8,188.4a2.9,2.15 0 1,0 5.8,0a2.9,2.15 0 1,0 -5.8,0M358.8,186.5a2.9,2.15 0 1,0 5.8,0a2.9,2.15 0 1,0 -5.8,0M361.9,186.4a2.9,2.15 0 1,0 5.8,0a2.9,2.15 0 1,0 -5.8,0M364.9,185.1a2.9,2.15 0 1,0 5.8,0a2.9,2.15 0 1,0 -5.8,0M368.0,187.0a2.9,2.15 0 1,0 5.8,0a2.9,2.15 0 1,0 -5.8,0M371.0,185.6a2.9,2.15 0 1,0 5.8,0a2.9,2.15 0 1,0 -5.8,0M374.1,186.8a2.9,2.15 0 1,0 5.8,0a2.9,2.15 0 1,0 -5.8,0M377.1,188.8a2.9,2.15 0 1,0 5.8,0a2.9,2.15 0 1,0 -5.8,0M380.2,187.5a2.9,2.15 0 1,0 5.8,0a2.9,2.15 0 1,0 -5.8,0M383.2,187.7a2.9,2.15 0 1,0 5.8,0a2.9,2.15 0 1,0 -5.8,0M386.3,187.4a2.9,2.15 0 1,0 5.8,0a2.9,2.15 0 1,0 -5.8,0M389.3,186.7a2.9,2.15 0 1,0 5.8,0a2.9,2.15 0 1,0 -5.8,0M392.4,186.2a2.9,2.15 0 1,0 5.8,0a2.9,2.15 0 1,0 -5.8,0M395.4,185.8a2.9,2.15 0 1,0 5.8,0a2.9,2.15 0 1,0 -5.8,0M398.5,187.6a2.9,2.15 0 1,0 5.8,0a2.9,2.15 0 1,0 -5.8,0M401.5,184.5a2.9,2.15 0 1,0 5.8,0a2.9,2.15 0 1,0 -5.8,0M404.6,188.7a2.9,2.15 0 1,0 5.8,0a2.9,2.15 0 1,0 -5.8,0M407.6,186.6a2.9,2.15 0 1,0 5.8,0a2.9,2.15 0 1,0 -5.8,0M410.7,185.4a2.9,2.15 0 1,0 5.8,0a2.9,2.15 0 1,0 -5.8,0M413.7,186.1a2.9,2.15 0 1,0 5.8,0a2.9,2.15 0 1,0 -5.8,0M416.8,186.1a2.9,2.15 0 1,0 5.8,0a2.9,2.15 0 1,0 -5.8,0M419.8,187.8a2.9,2.15 0 1,0 5.8,0a2.9,2.15 0 1,0 -5.8,0M422.9,186.6a2.9,2.15 0 1,0 5.8,0a2.9,2.15 0 1,0 -5.8,0M425.9,190.0a2.9,2.15 0 1,0 5.8,0a2.9,2.15 0 1,0 -5.8,0M429.0,187.0a2.9,2.15 0 1,0 5.8,0a2.9,2.15 0 1,0 -5.8,0M432.0,184.6a2.9,2.15 0 1,0 5.8,0a2.9,2.15 0 1,0 -5.8,0M435.1,187.3a2.9,2.15 0 1,0 5.8,0a2.9,2.15 0 1,0 -5.8,0M438.1,185.2a2.9,2.15 0 1,0 5.8,0a2.9,2.15 0 1,0 -5.8,0M441.2,188.5a2.9,2.15 0 1,0 5.8,0a2.9,2.15 0 1,0 -5.8,0M444.2,190.3a2.9,2.15 0 1,0 5.8,0a2.9,2.15 0 1,0 -5.8,0M447.3,189.5a2.9,2.15 0 1,0 5.8,0a2.9,2.15 0 1,0 -5.8,0M450.3,186.1a2.9,2.15 0 1,0 5.8,0a2.9,2.15 0 1,0 -5.8,0M453.4,187.0a2.9,2.15 0 1,0 5.8,0a2.9,2.15 0 1,0 -5.8,0M456.4,191.4a2.9,2.15 0 1,0 5.8,0a2.9,2.15 0 1,0 -5.8,0M459.5,189.0a2.9,2.15 0 1,0 5.8,0a2.9,2.15 0 1,0 -5.8,0M462.5,188.7a2.9,2.15 0 1,0 5.8,0a2.9,2.15 0 1,0 -5.8,0M465.6,190.6a2.9,2.15 0 1,0 5.8,0a2.9,2.15 0 1,0 -5.8,0M468.6,193.2a2.9,2.15 0 1,0 5.8,0a2.9,2.15 0 1,0 -5.8,0M471.7,191.5a2.9,2.15 0 1,0 5.8,0a2.9,2.15 0 1,0 -5.8,0M474.7,189.8a2.9,2.15 0 1,0 5.8,0a2.9,2.15 0 1,0 -5.8,0M477.8,190.4a2.9,2.15 0 1,0 5.8,0a2.9,2.15 0 1,0 -5.8,0M480.8,191.0a2.9,2.15 0 1,0 5.8,0a2.9,2.15 0 1,0 -5.8,0M483.9,189.0a2.9,2.15 0 1,0 5.8,0a2.9,2.15 0 1,0 -5.8,0M486.9,188.1a2.9,2.15 0 1,0 5.8,0a2.9,2.15 0 1,0 -5.8,0M69.1,223.0a2.9,2.15 0 1,0 5.8,0a2.9,2.15 0 1,0 -5.8,0M72.1,221.2a2.9,2.15 0 1,0 5.8,0a2.9,2.15 0 1,0 -5.8,0M75.2,221.3a2.9,2.15 0 1,0 5.8,0a2.9,2.15 0 1,0 -5.8,0M78.2,222.8a2.9,2.15 0 1,0 5.8,0a2.9,2.15 0 1,0 -5.8,0M81.3,223.7a2.9,2.15 0 1,0 5.8,0a2.9,2.15 0 1,0 -5.8,0M84.3,223.8a2.9,2.15 0 1,0 5.8,0a2.9,2.15 0 1,0 -5.8,0M87.4,224.8a2.9,2.15 0 1,0 5.8,0a2.9,2.15 0 1,0 -5.8,0M90.4,224.4a2.9,2.15 0 1,0 5.8,0a2.9,2.15 0 1,0 -5.8,0M93.5,217.3a2.9,2.15 0 1,0 5.8,0a2.9,2.15 0 1,0 -5.8,0M96.5,220.7a2.9,2.15 0 1,0 5.8,0a2.9,2.15 0 1,0 -5.8,0M99.6,215.3a2.9,2.15 0 1,0 5.8,0a2.9,2.15 0 1,0 -5.8,0M102.6,209.8a2.9,2.15 0 1,0 5.8,0a2.9,2.15 0 1,0 -5.8,0M105.7,217.2a2.9,2.15 0 1,0 5.8,0a2.9,2.15 0 1,0 -5.8,0M108.7,213.3a2.9,2.15 0 1,0 5.8,0a2.9,2.15 0 1,0 -5.8,0M111.8,206.6a2.9,2.15 0 1,0 5.8,0a2.9,2.15 0 1,0 -5.8,0M114.8,206.1a2.9,2.15 0 1,0 5.8,0a2.9,2.15 0 1,0 -5.8,0M117.9,203.0a2.9,2.15 0 1,0 5.8,0a2.9,2.15 0 1,0 -5.8,0M120.9,201.7a2.9,2.15 0 1,0 5.8,0a2.9,2.15 0 1,0 -5.8,0M124.0,198.6a2.9,2.15 0 1,0 5.8,0a2.9,2.15 0 1,0 -5.8,0M127.0,200.1a2.9,2.15 0 1,0 5.8,0a2.9,2.15 0 1,0 -5.8,0M130.1,202.2a2.9,2.15 0 1,0 5.8,0a2.9,2.15 0 1,0 -5.8,0M133.1,202.0a2.9,2.15 0 1,0 5.8,0a2.9,2.15 0 1,0 -5.8,0M136.2,203.8a2.9,2.15 0 1,0 5.8,0a2.9,2.15 0 1,0 -5.8,0M139.2,202.2a2.9,2.15 0 1,0 5.8,0a2.9,2.15 0 1,0 -5.8,0M142.3,206.3a2.9,2.15 0 1,0 5.8,0a2.9,2.15 0 1,0 -5.8,0M145.3,201.3a2.9,2.15 0 1,0 5.8,0a2.9,2.15 0 1,0 -5.8,0M148.4,203.1a2.9,2.15 0 1,0 5.8,0a2.9,2.15 0 1,0 -5.8,0M151.4,199.6a2.9,2.15 0 1,0 5.8,0a2.9,2.15 0 1,0 -5.8,0M154.5,200.9a2.9,2.15 0 1,0 5.8,0a2.9,2.15 0 1,0 -5.8,0M157.5,205.4a2.9,2.15 0 1,0 5.8,0a2.9,2.15 0 1,0 -5.8,0M160.6,201.6a2.9,2.15 0 1,0 5.8,0a2.9,2.15 0 1,0 -5.8,0M163.6,204.1a2.9,2.15 0 1,0 5.8,0a2.9,2.15 0 1,0 -5.8,0M166.7,203.1a2.9,2.15 0 1,0 5.8,0a2.9,2.15 0 1,0 -5.8,0M169.7,201.4a2.9,2.15 0 1,0 5.8,0a2.9,2.15 0 1,0 -5.8,0M172.8,202.5a2.9,2.15 0 1,0 5.8,0a2.9,2.15 0 1,0 -5.8,0M175.8,202.1a2.9,2.15 0 1,0 5.8,0a2.9,2.15 0 1,0 -5.8,0M178.9,201.9a2.9,2.15 0 1,0 5.8,0a2.9,2.15 0 1,0 -5.8,0M181.9,203.8a2.9,2.15 0 1,0 5.8,0a2.9,2.15 0 1,0 -5.8,0M185.0,203.4a2.9,2.15 0 1,0 5.8,0a2.9,2.15 0 1,0 -5.8,0M188.0,201.2a2.9,2.15 0 1,0 5.8,0a2.9,2.15 0 1,0 -5.8,0M191.1,200.3a2.9,2.15 0 1,0 5.8,0a2.9,2.15 0 1,0 -5.8,0M194.1,202.0a2.9,2.15 0 1,0 5.8,0a2.9,2.15 0 1,0 -5.8,0M197.2,201.1a2.9,2.15 0 1,0 5.8,0a2.9,2.15 0 1,0 -5.8,0M200.2,202.7a2.9,2.15 0 1,0 5.8,0a2.9,2.15 0 1,0 -5.8,0M203.3,205.1a2.9,2.15 0 1,0 5.8,0a2.9,2.15 0 1,0 -5.8,0M206.3,201.6a2.9,2.15 0 1,0 5.8,0a2.9,2.15 0 1,0 -5.8,0M209.4,199.7a2.9,2.15 0 1,0 5.8,0a2.9,2.15 0 1,0 -5.8,0M212.4,199.2a2.9,2.15 0 1,0 5.8,0a2.9,2.15 0 1,0 -5.8,0M215.5,197.9a2.9,2.15 0 1,0 5.8,0a2.9,2.15 0 1,0 -5.8,0M218.5,197.6a2.9,2.15 0 1,0 5.8,0a2.9,2.15 0 1,0 -5.8,0M221.6,197.4a2.9,2.15 0 1,0 5.8,0a2.9,2.15 0 1,0 -5.8,0M224.6,198.5a2.9,2.15 0 1,0 5.8,0a2.9,2.15 0 1,0 -5.8,0M227.7,198.7a2.9,2.15 0 1,0 5.8,0a2.9,2.15 0 1,0 -5.8,0M230.7,200.9a2.9,2.15 0 1,0 5.8,0a2.9,2.15 0 1,0 -5.8,0M233.8,199.4a2.9,2.15 0 1,0 5.8,0a2.9,2.15 0 1,0 -5.8,0M236.8,200.0a2.9,2.15 0 1,0 5.8,0a2.9,2.15 0 1,0 -5.8,0M239.9,198.6a2.9,2.15 0 1,0 5.8,0a2.9,2.15 0 1,0 -5.8,0M242.9,203.7a2.9,2.15 0 1,0 5.8,0a2.9,2.15 0 1,0 -5.8,0M246.0,201.9a2.9,2.15 0 1,0 5.8,0a2.9,2.15 0 1,0 -5.8,0M249.0,204.2a2.9,2.15 0 1,0 5.8,0a2.9,2.15 0 1,0 -5.8,0M252.1,202.5a2.9,2.15 0 1,0 5.8,0a2.9,2.15 0 1,0 -5.8,0M255.1,203.6a2.9,2.15 0 1,0 5.8,0a2.9,2.15 0 1,0 -5.8,0M258.2,200.6a2.9,2.15 0 1,0 5.8,0a2.9,2.15 0 1,0 -5.8,0M261.2,202.1a2.9,2.15 0 1,0 5.8,0a2.9,2.15 0 1,0 -5.8,0M264.3,205.3a2.9,2.15 0 1,0 5.8,0a2.9,2.15 0 1,0 -5.8,0M267.3,198.5a2.9,2.15 0 1,0 5.8,0a2.9,2.15 0 1,0 -5.8,0M270.4,202.6a2.9,2.15 0 1,0 5.8,0a2.9,2.15 0 1,0 -5.8,0M273.4,203.4a2.9,2.15 0 1,0 5.8,0a2.9,2.15 0 1,0 -5.8,0M276.5,201.2a2.9,2.15 0 1,0 5.8,0a2.9,2.15 0 1,0 -5.8,0M279.5,201.9a2.9,2.15 0 1,0 5.8,0a2.9,2.15 0 1,0 -5.8,0M282.6,202.8a2.9,2.15 0 1,0 5.8,0a2.9,2.15 0 1,0 -5.8,0M285.6,199.5a2.9,2.15 0 1,0 5.8,0a2.9,2.15 0 1,0 -5.8,0M288.7,201.3a2.9,2.15 0 1,0 5.8,0a2.9,2.15 0 1,0 -5.8,0M291.7,199.1a2.9,2.15 0 1,0 5.8,0a2.9,2.15 0 1,0 -5.8,0M294.8,199.5a2.9,2.15 0 1,0 5.8,0a2.9,2.15 0 1,0 -5.8,0M297.8,199.4a2.9,2.15 0 1,0 5.8,0a2.9,2.15 0 1,0 -5.8,0M300.9,200.3a2.9,2.15 0 1,0 5.8,0a2.9,2.15 0 1,0 -5.8,0M303.9,200.8a2.9,2.15 0 1,0 5.8,0a2.9,2.15 0 1,0 -5.8,0M307.0,201.4a2.9,2.15 0 1,0 5.8,0a2.9,2.15 0 1,0 -5.8,0M310.0,198.3a2.9,2.15 0 1,0 5.8,0a2.9,2.15 0 1,0 -5.8,0M313.1,204.4a2.9,2.15 0 1,0 5.8,0a2.9,2.15 0 1,0 -5.8,0M316.1,203.3a2.9,2.15 0 1,0 5.8,0a2.9,2.15 0 1,0 -5.8,0M319.2,202.8a2.9,2.15 0 1,0 5.8,0a2.9,2.15 0 1,0 -5.8,0M322.2,201.2a2.9,2.15 0 1,0 5.8,0a2.9,2.15 0 1,0 -5.8,0M325.3,201.9a2.9,2.15 0 1,0 5.8,0a2.9,2.15 0 1,0 -5.8,0M328.3,203.0a2.9,2.15 0 1,0 5.8,0a2.9,2.15 0 1,0 -5.8,0M331.4,202.9a2.9,2.15 0 1,0 5.8,0a2.9,2.15 0 1,0 -5.8,0M334.4,199.3a2.9,2.15 0 1,0 5.8,0a2.9,2.15 0 1,0 -5.8,0M337.5,203.6a2.9,2.15 0 1,0 5.8,0a2.9,2.15 0 1,0 -5.8,0M340.5,207.3a2.9,2.15 0 1,0 5.8,0a2.9,2.15 0 1,0 -5.8,0M343.6,199.0a2.9,2.15 0 1,0 5.8,0a2.9,2.15 0 1,0 -5.8,0M346.6,203.9a2.9,2.15 0 1,0 5.8,0a2.9,2.15 0 1,0 -5.8,0M349.7,203.1a2.9,2.15 0 1,0 5.8,0a2.9,2.15 0 1,0 -5.8,0M352.7,202.3a2.9,2.15 0 1,0 5.8,0a2.9,2.15 0 1,0 -5.8,0M355.8,205.2a2.9,2.15 0 1,0 5.8,0a2.9,2.15 0 1,0 -5.8,0M358.8,200.9a2.9,2.15 0 1,0 5.8,0a2.9,2.15 0 1,0 -5.8,0M361.9,203.3a2.9,2.15 0 1,0 5.8,0a2.9,2.15 0 1,0 -5.8,0M364.9,205.5a2.9,2.15 0 1,0 5.8,0a2.9,2.15 0 1,0 -5.8,0M368.0,202.6a2.9,2.15 0 1,0 5.8,0a2.9,2.15 0 1,0 -5.8,0M371.0,201.9a2.9,2.15 0 1,0 5.8,0a2.9,2.15 0 1,0 -5.8,0M374.1,202.5a2.9,2.15 0 1,0 5.8,0a2.9,2.15 0 1,0 -5.8,0M377.1,201.1a2.9,2.15 0 1,0 5.8,0a2.9,2.15 0 1,0 -5.8,0M380.2,204.3a2.9,2.15 0 1,0 5.8,0a2.9,2.15 0 1,0 -5.8,0M383.2,199.6a2.9,2.15 0 1,0 5.8,0a2.9,2.15 0 1,0 -5.8,0M386.3,202.5a2.9,2.15 0 1,0 5.8,0a2.9,2.15 0 1,0 -5.8,0M389.3,198.7a2.9,2.15 0 1,0 5.8,0a2.9,2.15 0 1,0 -5.8,0M392.4,202.2a2.9,2.15 0 1,0 5.8,0a2.9,2.15 0 1,0 -5.8,0M395.4,201.1a2.9,2.15 0 1,0 5.8,0a2.9,2.15 0 1,0 -5.8,0M398.5,197.0a2.9,2.15 0 1,0 5.8,0a2.9,2.15 0 1,0 -5.8,0M401.5,201.8a2.9,2.15 0 1,0 5.8,0a2.9,2.15 0 1,0 -5.8,0M404.6,200.3a2.9,2.15 0 1,0 5.8,0a2.9,2.15 0 1,0 -5.8,0M407.6,201.6a2.9,2.15 0 1,0 5.8,0a2.9,2.15 0 1,0 -5.8,0M410.7,205.1a2.9,2.15 0 1,0 5.8,0a2.9,2.15 0 1,0 -5.8,0M413.7,200.5a2.9,2.15 0 1,0 5.8,0a2.9,2.15 0 1,0 -5.8,0M416.8,200.5a2.9,2.15 0 1,0 5.8,0a2.9,2.15 0 1,0 -5.8,0M419.8,204.7a2.9,2.15 0 1,0 5.8,0a2.9,2.15 0 1,0 -5.8,0M422.9,202.2a2.9,2.15 0 1,0 5.8,0a2.9,2.15 0 1,0 -5.8,0M425.9,204.5a2.9,2.15 0 1,0 5.8,0a2.9,2.15 0 1,0 -5.8,0M429.0,202.2a2.9,2.15 0 1,0 5.8,0a2.9,2.15 0 1,0 -5.8,0M432.0,200.0a2.9,2.15 0 1,0 5.8,0a2.9,2.15 0 1,0 -5.8,0M435.1,201.4a2.9,2.15 0 1,0 5.8,0a2.9,2.15 0 1,0 -5.8,0M438.1,203.8a2.9,2.15 0 1,0 5.8,0a2.9,2.15 0 1,0 -5.8,0M441.2,203.3a2.9,2.15 0 1,0 5.8,0a2.9,2.15 0 1,0 -5.8,0M444.2,201.8a2.9,2.15 0 1,0 5.8,0a2.9,2.15 0 1,0 -5.8,0M447.3,202.0a2.9,2.15 0 1,0 5.8,0a2.9,2.15 0 1,0 -5.8,0M450.3,201.9a2.9,2.15 0 1,0 5.8,0a2.9,2.15 0 1,0 -5.8,0M453.4,201.4a2.9,2.15 0 1,0 5.8,0a2.9,2.15 0 1,0 -5.8,0M456.4,206.0a2.9,2.15 0 1,0 5.8,0a2.9,2.15 0 1,0 -5.8,0M459.5,202.8a2.9,2.15 0 1,0 5.8,0a2.9,2.15 0 1,0 -5.8,0M462.5,200.9a2.9,2.15 0 1,0 5.8,0a2.9,2.15 0 1,0 -5.8,0M465.6,202.1a2.9,2.15 0 1,0 5.8,0a2.9,2.15 0 1,0 -5.8,0M468.6,204.2a2.9,2.15 0 1,0 5.8,0a2.9,2.15 0 1,0 -5.8,0M471.7,203.9a2.9,2.15 0 1,0 5.8,0a2.9,2.15 0 1,0 -5.8,0M474.7,202.4a2.9,2.15 0 1,0 5.8,0a2.9,2.15 0 1,0 -5.8,0M477.8,201.3a2.9,2.15 0 1,0 5.8,0a2.9,2.15 0 1,0 -5.8,0M480.8,202.2a2.9,2.15 0 1,0 5.8,0a2.9,2.15 0 1,0 -5.8,0M483.9,198.9a2.9,2.15 0 1,0 5.8,0a2.9,2.15 0 1,0 -5.8,0M486.9,199.2a2.9,2.15 0 1,0 5.8,0a2.9,2.15 0 1,0 -5.8,0" fill="none" stroke="#000" stroke-width="1.5"/>
<path d="M87.2,222.9 L87.7,222.7 L88.2,222.4 L88.7,221.8 L89.2,220.8 L89.7,219.5 L90.2,217.9 L90.7,216.0 L91.2,213.9 L91.7,211.7 L92.2,209.5 L92.7,207.2 L93.2,205.0 L93.7,202.8 L94.2,200.5 L94.7,198.3 L95.2,196.0 L95.7,193.8 L96.2,191.5 L96.7,189.3 L97.2,187.0 L97.7,184.8 L98.2,182.6 L98.7,180.3 L99.2,178.1 L99.7,175.8 L100.2,173.6 L100.7,171.4 L101.2,169.1 L101.7,166.9 L102.2,164.6 L102.7,162.4 L103.2,160.1 L103.7,157.8 L104.2,155.6 L104.7,153.3 L105.2,151.0 L105.7,148.7 L106.2,146.4 L106.7,144.0 L107.2,141.7 L107.7,139.4 L108.2,137.0 L108.7,134.7 L109.2,132.4 L109.7,130.1 L110.2,127.8 L110.7,125.5 L111.2,123.2 L111.7,120.9 L112.2,118.7 L112.7,116.5 L113.2,114.3 L113.7,112.2 L114.2,110.1 L114.7,108.0 L115.2,105.9 L115.7,103.9 L116.2,101.9 L116.7,99.9 L117.2,97.9 L117.7,95.9 L118.2,94.0 L118.7,92.1 L119.2,90.2 L119.7,88.3 L120.2,86.5 L120.7,84.6 L121.2,82.8 L121.7,81.0 L122.2,79.3 L122.7,77.5 L123.2,75.8 L123.7,74.0 L124.2,72.3 L124.7,70.7 L125.2,69.0 L125.7,67.4 L126.2,66.0 L126.7,64.7 L127.2,63.6 L127.7,62.8 L128.2,62.3 L128.7,62.0 L129.2,61.9 L129.7,61.9 L130.2,62.0 L130.5,62.0 L132.5,62.4 L134.5,62.7 L136.5,63.1 L138.5,63.5 L140.5,63.8 L142.5,64.2 L144.5,64.6 L146.5,64.9 L148.5,65.3 L150.5,65.7 L152.5,66.1 L154.5,66.4 L156.5,66.8 L158.5,67.2 L160.5,67.6 L162.5,67.9 L164.5,68.3 L166.5,68.7 L168.5,69.0 L170.5,69.3 L172.5,69.7 L174.5,70.0 L176.5,70.3 L178.5,70.6 L180.5,71.0 L182.5,71.3 L184.5,71.6 L186.5,71.9 L188.5,72.3 L190.5,72.6 L192.5,72.9 L194.5,73.3 L196.5,73.6 L198.5,74.0 L200.5,74.3 L202.5,74.7 L204.5,75.0 L206.5,75.4 L208.5,75.7 L210.5,76.1 L212.5,76.4 L214.5,76.8 L216.5,77.1 L218.5,77.4 L220.5,77.7 L222.5,78.1 L224.5,78.4 L226.5,78.7 L228.5,79.0 L230.5,79.4 L232.5,79.7 L234.5,80.1 L236.5,80.5 L238.5,80.9 L240.5,81.3 L242.5,81.8 L244.5,82.2 L246.5,82.7 L248.5,83.2 L250.5,83.6 L252.5,84.1 L254.5,84.5 L256.5,84.9 L258.5,85.3 L260.5,85.7 L262.5,86.1 L264.5,86.5 L266.5,86.8 L268.5,87.2 L270.5,87.6 L272.5,87.9 L274.5,88.3 L276.5,88.6 L278.5,88.9 L280.5,89.3 L282.5,89.6 L284.5,89.9 L286.5,90.2 L288.5,90.5 L290.5,90.7 L292.5,91.0 L294.5,91.2 L296.5,91.5 L298.5,91.7 L300.5,91.9 L302.5,92.2 L304.5,92.4 L306.5,92.7 L308.5,93.0 L310.5,93.2 L312.5,93.5 L314.5,93.8 L316.5,94.1 L318.5,94.5 L320.5,94.8 L322.5,95.1 L324.5,95.4 L326.5,95.8 L328.5,96.1 L330.5,96.4 L332.5,96.8 L334.5,97.1 L336.5,97.4 L338.5,97.7 L340.5,98.0 L342.5,98.3 L344.5,98.6 L346.5,98.9 L348.5,99.2 L350.5,99.5 L352.5,99.8 L354.5,100.1 L356.5,100.4 L358.5,100.7 L360.5,101.0 L362.5,101.3 L364.5,101.6 L366.5,101.8 L368.5,102.1 L370.5,102.4 L372.5,102.7 L374.5,103.0 L376.5,103.3 L378.5,103.6 L380.5,103.9 L382.5,104.2 L384.5,104.5 L386.5,104.7 L388.5,105.0 L390.5,105.3 L392.5,105.5 L394.5,105.7 L396.5,106.0 L398.5,106.2 L400.5,106.5 L402.5,106.7 L404.5,106.9 L406.5,107.2 L408.5,107.4 L410.5,107.6 L412.5,107.8 L414.5,108.1 L416.5,108.3 L418.5,108.5 L420.5,108.7 L422.5,108.9 L424.5,109.1 L426.5,109.3 L428.5,109.6 L430.5,109.8 L432.5,110.0 L434.5,110.2 L436.5,110.4 L438.5,110.6 L440.5,110.8 L442.5,111.0 L444.5,111.1 L446.5,111.3 L448.5,111.5 L450.5,111.7 L452.5,111.9 L454.5,112.1 L456.5,112.2 L458.5,112.4 L460.5,112.6 L462.5,112.8 L464.5,113.0 L466.5,113.2 L468.5,113.4 L470.5,113.6 L472.5,113.8 L474.5,114.0 L476.5,114.2 L478.5,114.4 L480.5,114.6 L482.5,114.8 L484.5,115.0 L486.5,115.2 L488.5,115.4 L490.5,115.6 L492.0,115.8" fill="none" stroke="#000" stroke-width="2.2" stroke-linejoin="round"/>
<path d="M89.3,222.9 L89.8,222.9 L90.3,222.7 L90.8,222.4 L91.3,222.0 L91.8,221.3 L92.3,220.5 L92.8,219.6 L93.3,218.6 L93.8,217.5 L94.3,216.5 L94.8,215.4 L95.3,214.2 L95.8,213.1 L96.3,212.0 L96.8,210.9 L97.3,209.8 L97.8,208.7 L98.3,207.5 L98.8,206.4 L99.3,205.2 L99.8,204.1 L100.3,202.9 L100.8,201.8 L101.3,200.6 L101.8,199.5 L102.3,198.3 L102.8,197.1 L103.3,195.9 L103.8,194.8 L104.3,193.6 L104.8,192.4 L105.3,191.2 L105.8,190.0 L106.3,188.9 L106.8,187.7 L107.3,186.5 L107.8,185.3 L108.3,184.1 L108.8,183.0 L109.3,181.8 L109.8,180.6 L110.3,179.4 L110.8,178.2 L111.3,177.0 L111.8,175.8 L112.3,174.6 L112.8,173.3 L113.3,172.1 L113.8,170.8 L114.3,169.5 L114.8,168.2 L115.3,166.8 L115.8,165.4 L116.3,164.0 L116.8,162.6 L117.3,161.1 L117.8,159.6 L118.3,158.1 L118.8,156.6 L119.3,155.2 L119.8,153.7 L120.3,152.3 L120.8,151.0 L121.3,149.7 L121.8,148.5 L122.3,147.3 L122.8,146.2 L123.3,145.1 L123.8,144.0 L124.3,143.0 L124.8,142.1 L125.3,141.2 L125.8,140.3 L126.3,139.6 L126.8,138.9 L127.3,138.4 L127.8,138.0 L128.3,137.8 L128.8,137.6 L129.3,137.6 L129.8,137.5 L130.3,137.5 L130.5,137.5 L132.5,137.5 L134.5,137.5 L136.5,137.5 L138.5,137.5 L140.5,137.5 L142.5,137.6 L144.5,137.6 L146.5,137.6 L148.5,137.6 L150.5,137.7 L152.5,137.7 L154.5,137.8 L156.5,137.9 L158.5,138.0 L160.5,138.1 L162.5,138.3 L164.5,138.4 L166.5,138.5 L168.5,138.7 L170.5,138.8 L172.5,138.9 L174.5,139.0 L176.5,139.1 L178.5,139.3 L180.5,139.4 L182.5,139.5 L184.5,139.6 L186.5,139.7 L188.5,139.9 L190.5,140.0 L192.5,140.1 L194.5,140.2 L196.5,140.3 L198.5,140.5 L200.5,140.6 L202.5,140.7 L204.5,140.8 L206.5,140.9 L208.5,141.0 L210.5,141.1 L212.5,141.2 L214.5,141.3 L216.5,141.4 L218.5,141.5 L220.5,141.6 L222.5,141.7 L224.5,141.8 L226.5,141.9 L228.5,142.0 L230.5,142.1 L232.5,142.2 L234.5,142.4 L236.5,142.5 L238.5,142.6 L240.5,142.7 L242.5,142.8 L244.5,142.9 L246.5,143.0 L248.5,143.1 L250.5,143.2 L252.5,143.4 L254.5,143.5 L256.5,143.6 L258.5,143.8 L260.5,143.9 L262.5,144.1 L264.5,144.2 L266.5,144.4 L268.5,144.6 L270.5,144.8 L272.5,144.9 L274.5,145.1 L276.5,145.3 L278.5,145.4 L280.5,145.6 L282.5,145.7 L284.5,145.9 L286.5,146.0 L288.5,146.2 L290.5,146.3 L292.5,146.5 L294.5,146.6 L296.5,146.8 L298.5,146.9 L300.5,147.0 L302.5,147.2 L304.5,147.3 L306.5,147.5 L308.5,147.6 L310.5,147.8 L312.5,147.9 L314.5,148.1 L316.5,148.2 L318.5,148.4 L320.5,148.5 L322.5,148.7 L324.5,148.8 L326.5,149.0 L328.5,149.1 L330.5,149.3 L332.5,149.4 L334.5,149.6 L336.5,149.7 L338.5,149.9 L340.5,150.0 L342.5,150.2 L344.5,150.3 L346.5,150.5 L348.5,150.6 L350.5,150.8 L352.5,150.9 L354.5,151.1 L356.5,151.2 L358.5,151.4 L360.5,151.5 L362.5,151.6 L364.5,151.8 L366.5,151.9 L368.5,152.1 L370.5,152.2 L372.5,152.3 L374.5,152.5 L376.5,152.6 L378.5,152.8 L380.5,152.9 L382.5,153.0 L384.5,153.2 L386.5,153.3 L388.5,153.5 L390.5,153.6 L392.5,153.8 L394.5,153.9 L396.5,154.1 L398.5,154.2 L400.5,154.3 L402.5,154.5 L404.5,154.6 L406.5,154.7 L408.5,154.8 L410.5,154.9 L412.5,155.1 L414.5,155.2 L416.5,155.3 L418.5,155.4 L420.5,155.5 L422.5,155.6 L424.5,155.7 L426.5,155.8 L428.5,155.9 L430.5,156.0 L432.5,156.1 L434.5,156.2 L436.5,156.4 L438.5,156.5 L440.5,156.6 L442.5,156.7 L444.5,156.8 L446.5,156.9 L448.5,157.0 L450.5,157.1 L452.5,157.1 L454.5,157.2 L456.5,157.3 L458.5,157.4 L460.5,157.5 L462.5,157.6 L464.5,157.7 L466.5,157.8 L468.5,157.8 L470.5,157.9 L472.5,158.0 L474.5,158.1 L476.5,158.2 L478.5,158.3 L480.5,158.3 L482.5,158.4 L484.5,158.5 L486.5,158.6 L488.5,158.7 L490.5,158.7 L492.0,158.8" fill="none" stroke="#000" stroke-width="2.2" stroke-linejoin="round"/>
<path d="M89.5,223.0 L90.0,222.9 L90.5,222.8 L91.0,222.6 L91.5,222.3 L92.0,221.9 L92.5,221.4 L93.0,220.8 L93.5,220.1 L94.0,219.5 L94.5,218.8 L95.0,218.1 L95.5,217.4 L96.0,216.8 L96.5,216.1 L97.0,215.4 L97.5,214.8 L98.0,214.1 L98.5,213.5 L99.0,212.9 L99.5,212.2 L100.0,211.6 L100.5,211.0 L101.0,210.4 L101.5,209.7 L102.0,209.1 L102.5,208.5 L103.0,207.9 L103.5,207.2 L104.0,206.6 L104.5,206.0 L105.0,205.4 L105.5,204.8 L106.0,204.1 L106.5,203.5 L107.0,202.9 L107.5,202.3 L108.0,201.6 L108.5,201.0 L109.0,200.4 L109.5,199.8 L110.0,199.1 L110.5,198.5 L111.0,197.9 L111.5,197.2 L112.0,196.6 L112.5,195.9 L113.0,195.3 L113.5,194.7 L114.0,194.1 L114.5,193.5 L115.0,192.9 L115.5,192.3 L116.0,191.7 L116.5,191.2 L117.0,190.7 L117.5,190.2 L118.0,189.7 L118.5,189.2 L119.0,188.7 L119.5,188.2 L120.0,187.7 L120.5,187.2 L121.0,186.7 L121.5,186.2 L122.0,185.7 L122.5,185.2 L123.0,184.6 L123.5,184.1 L124.0,183.5 L124.5,183.0 L125.0,182.4 L125.5,181.9 L126.0,181.3 L126.5,180.8 L127.0,180.4 L127.5,180.1 L128.0,179.8 L128.5,179.7 L129.0,179.6 L129.5,179.6 L130.0,179.6 L130.5,179.6 L132.5,179.6 L134.5,179.7 L136.5,179.7 L138.5,179.8 L140.5,179.8 L142.5,179.9 L144.5,179.9 L146.5,180.0 L148.5,180.0 L150.5,180.1 L152.5,180.2 L154.5,180.2 L156.5,180.3 L158.5,180.3 L160.5,180.4 L162.5,180.5 L164.5,180.5 L166.5,180.6 L168.5,180.7 L170.5,180.7 L172.5,180.8 L174.5,180.8 L176.5,180.9 L178.5,180.9 L180.5,181.0 L182.5,181.0 L184.5,181.0 L186.5,181.1 L188.5,181.1 L190.5,181.2 L192.5,181.2 L194.5,181.3 L196.5,181.3 L198.5,181.3 L200.5,181.4 L202.5,181.4 L204.5,181.5 L206.5,181.5 L208.5,181.6 L210.5,181.6 L212.5,181.7 L214.5,181.7 L216.5,181.7 L218.5,181.8 L220.5,181.8 L222.5,181.9 L224.5,181.9 L226.5,182.0 L228.5,182.0 L230.5,182.1 L232.5,182.1 L234.5,182.1 L236.5,182.2 L238.5,182.2 L240.5,182.3 L242.5,182.3 L244.5,182.3 L246.5,182.4 L248.5,182.4 L250.5,182.5 L252.5,182.5 L254.5,182.6 L256.5,182.7 L258.5,182.8 L260.5,182.9 L262.5,183.0 L264.5,183.1 L266.5,183.2 L268.5,183.3 L270.5,183.5 L272.5,183.6 L274.5,183.7 L276.5,183.8 L278.5,183.9 L280.5,183.9 L282.5,184.0 L284.5,184.1 L286.5,184.2 L288.5,184.2 L290.5,184.3 L292.5,184.3 L294.5,184.4 L296.5,184.5 L298.5,184.5 L300.5,184.6 L302.5,184.7 L304.5,184.7 L306.5,184.8 L308.5,184.8 L310.5,184.9 L312.5,185.0 L314.5,185.0 L316.5,185.1 L318.5,185.1 L320.5,185.2 L322.5,185.3 L324.5,185.3 L326.5,185.4 L328.5,185.4 L330.5,185.5 L332.5,185.5 L334.5,185.6 L336.5,185.7 L338.5,185.7 L340.5,185.8 L342.5,185.8 L344.5,185.9 L346.5,185.9 L348.5,186.0 L350.5,186.0 L352.5,186.1 L354.5,186.1 L356.5,186.2 L358.5,186.2 L360.5,186.3 L362.5,186.3 L364.5,186.4 L366.5,186.4 L368.5,186.4 L370.5,186.5 L372.5,186.5 L374.5,186.6 L376.5,186.6 L378.5,186.7 L380.5,186.7 L382.5,186.7 L384.5,186.8 L386.5,186.8 L388.5,186.9 L390.5,186.9 L392.5,187.0 L394.5,187.0 L396.5,187.1 L398.5,187.1 L400.5,187.2 L402.5,187.2 L404.5,187.2 L406.5,187.3 L408.5,187.3 L410.5,187.4 L412.5,187.4 L414.5,187.5 L416.5,187.5 L418.5,187.5 L420.5,187.6 L422.5,187.6 L424.5,187.7 L426.5,187.7 L428.5,187.7 L430.5,187.8 L432.5,187.8 L434.5,187.9 L436.5,187.9 L438.5,187.9 L440.5,188.0 L442.5,188.0 L444.5,188.0 L446.5,188.1 L448.5,188.1 L450.5,188.1 L452.5,188.2 L454.5,188.2 L456.5,188.2 L458.5,188.3 L460.5,188.3 L462.5,188.3 L464.5,188.4 L466.5,188.4 L468.5,188.4 L470.5,188.5 L472.5,188.5 L474.5,188.5 L476.5,188.6 L478.5,188.6 L480.5,188.6 L482.5,188.7 L484.5,188.7 L486.5,188.7 L488.5,188.7 L490.5,188.8 L492.0,188.8" fill="none" stroke="#000" stroke-width="2.2" stroke-linejoin="round"/>
<path d="M90.0,223.0 L90.5,223.0 L91.0,222.9 L91.5,222.8 L92.0,222.6 L92.5,222.4 L93.0,222.2 L93.5,221.9 L94.0,221.6 L94.5,221.2 L95.0,220.9 L95.5,220.6 L96.0,220.3 L96.5,219.9 L97.0,219.6 L97.5,219.3 L98.0,219.0 L98.5,218.7 L99.0,218.5 L99.5,218.2 L100.0,217.9 L100.5,217.6 L101.0,217.3 L101.5,217.0 L102.0,216.7 L102.5,216.4 L103.0,216.1 L103.5,215.8 L104.0,215.6 L104.5,215.3 L105.0,215.0 L105.5,214.7 L106.0,214.4 L106.5,214.1 L107.0,213.8 L107.5,213.5 L108.0,213.2 L108.5,212.9 L109.0,212.6 L109.5,212.3 L110.0,211.9 L110.5,211.6 L111.0,211.3 L111.5,210.9 L112.0,210.6 L112.5,210.2 L113.0,209.8 L113.5,209.5 L114.0,209.1 L114.5,208.7 L115.0,208.3 L115.5,207.9 L116.0,207.5 L116.5,207.2 L117.0,206.8 L117.5,206.4 L118.0,206.0 L118.5,205.6 L119.0,205.1 L119.5,204.7 L120.0,204.3 L120.5,203.9 L121.0,203.5 L121.5,203.1 L122.0,202.8 L122.5,202.5 L123.0,202.3 L123.5,202.1 L124.0,201.9 L124.5,201.8 L125.0,201.7 L125.5,201.6 L126.0,201.6 L126.5,201.6 L127.0,201.5 L127.5,201.5 L128.0,201.5 L128.5,201.5 L129.0,201.5 L129.5,201.5 L130.0,201.6 L130.5,201.6 L132.5,201.6 L134.5,201.6 L136.5,201.7 L138.5,201.7 L140.5,201.8 L142.5,201.8 L144.5,201.8 L146.5,201.8 L148.5,201.8 L150.5,201.8 L152.5,201.8 L154.5,201.8 L156.5,201.8 L158.5,201.8 L160.5,201.8 L162.5,201.8 L164.5,201.8 L166.5,201.8 L168.5,201.8 L170.5,201.7 L172.5,201.7 L174.5,201.7 L176.5,201.7 L178.5,201.7 L180.5,201.7 L182.5,201.7 L184.5,201.7 L186.5,201.7 L188.5,201.7 L190.5,201.6 L192.5,201.6 L194.5,201.6 L196.5,201.6 L198.5,201.6 L200.5,201.6 L202.5,201.6 L204.5,201.6 L206.5,201.6 L208.5,201.6 L210.5,201.5 L212.5,201.5 L214.5,201.5 L216.5,201.5 L218.5,201.5 L220.5,201.5 L222.5,201.5 L224.5,201.4 L226.5,201.4 L228.5,201.4 L230.5,201.4 L232.5,201.4 L234.5,201.4 L236.5,201.4 L238.5,201.4 L240.5,201.3 L242.5,201.3 L244.5,201.3 L246.5,201.3 L248.5,201.3 L250.5,201.3 L252.5,201.3 L254.5,201.3 L256.5,201.3 L258.5,201.3 L260.5,201.3 L262.5,201.3 L264.5,201.3 L266.5,201.3 L268.5,201.3 L270.5,201.3 L272.5,201.3 L274.5,201.3 L276.5,201.3 L278.5,201.3 L280.5,201.3 L282.5,201.3 L284.5,201.3 L286.5,201.3 L288.5,201.3 L290.5,201.3 L292.5,201.3 L294.5,201.3 L296.5,201.3 L298.5,201.3 L300.5,201.3 L302.5,201.3 L304.5,201.3 L306.5,201.3 L308.5,201.3 L310.5,201.3 L312.5,201.3 L314.5,201.3 L316.5,201.3 L318.5,201.3 L320.5,201.3 L322.5,201.4 L324.5,201.4 L326.5,201.4 L328.5,201.4 L330.5,201.4 L332.5,201.4 L334.5,201.4 L336.5,201.5 L338.5,201.5 L340.5,201.5 L342.5,201.5 L344.5,201.5 L346.5,201.5 L348.5,201.5 L350.5,201.6 L352.5,201.6 L354.5,201.6 L356.5,201.6 L358.5,201.6 L360.5,201.6 L362.5,201.6 L364.5,201.6 L366.5,201.7 L368.5,201.7 L370.5,201.7 L372.5,201.7 L374.5,201.7 L376.5,201.7 L378.5,201.7 L380.5,201.7 L382.5,201.8 L384.5,201.8 L386.5,201.8 L388.5,201.8 L390.5,201.8 L392.5,201.8 L394.5,201.8 L396.5,201.8 L398.5,201.9 L400.5,201.9 L402.5,201.9 L404.5,201.9 L406.5,201.9 L408.5,201.9 L410.5,201.9 L412.5,201.9 L414.5,201.9 L416.5,202.0 L418.5,202.0 L420.5,202.0 L422.5,202.0 L424.5,202.0 L426.5,202.0 L428.5,202.0 L430.5,202.0 L432.5,202.0 L434.5,202.0 L436.5,202.0 L438.5,202.0 L440.5,202.1 L442.5,202.1 L444.5,202.1 L446.5,202.1 L448.5,202.1 L450.5,202.1 L452.5,202.1 L454.5,202.1 L456.5,202.1 L458.5,202.1 L460.5,202.1 L462.5,202.1 L464.5,202.1 L466.5,202.1 L468.5,202.1 L470.5,202.2 L472.5,202.2 L474.5,202.2 L476.5,202.2 L478.5,202.2 L480.5,202.2 L482.5,202.2 L484.5,202.2 L486.5,202.2 L488.5,202.2 L490.5,202.2 L492.0,202.2" fill="none" stroke="#000" stroke-width="2.2" stroke-linejoin="round"/>
<path d="M69.3,541.7a3.2,2.6 0 1,0 6.4,0a3.2,2.6 0 1,0 -6.4,0M72.5,542.2a3.2,2.6 0 1,0 6.4,0a3.2,2.6 0 1,0 -6.4,0M75.7,542.0a3.2,2.6 0 1,0 6.4,0a3.2,2.6 0 1,0 -6.4,0M78.9,541.3a3.2,2.6 0 1,0 6.4,0a3.2,2.6 0 1,0 -6.4,0M82.1,541.5a3.2,2.6 0 1,0 6.4,0a3.2,2.6 0 1,0 -6.4,0M85.3,542.2a3.2,2.6 0 1,0 6.4,0a3.2,2.6 0 1,0 -6.4,0M88.5,529.1a3.2,2.6 0 1,0 6.4,0a3.2,2.6 0 1,0 -6.4,0M91.7,510.6a3.2,2.6 0 1,0 6.4,0a3.2,2.6 0 1,0 -6.4,0M94.9,492.6a3.2,2.6 0 1,0 6.4,0a3.2,2.6 0 1,0 -6.4,0M98.1,473.5a3.2,2.6 0 1,0 6.4,0a3.2,2.6 0 1,0 -6.4,0M101.3,459.1a3.2,2.6 0 1,0 6.4,0a3.2,2.6 0 1,0 -6.4,0M104.5,441.3a3.2,2.6 0 1,0 6.4,0a3.2,2.6 0 1,0 -6.4,0M107.7,423.5a3.2,2.6 0 1,0 6.4,0a3.2,2.6 0 1,0 -6.4,0M110.9,409.0a3.2,2.6 0 1,0 6.4,0a3.2,2.6 0 1,0 -6.4,0M114.1,402.3a3.2,2.6 0 1,0 6.4,0a3.2,2.6 0 1,0 -6.4,0M117.3,392.8a3.2,2.6 0 1,0 6.4,0a3.2,2.6 0 1,0 -6.4,0M120.5,386.5a3.2,2.6 0 1,0 6.4,0a3.2,2.6 0 1,0 -6.4,0M123.7,380.9a3.2,2.6 0 1,0 6.4,0a3.2,2.6 0 1,0 -6.4,0M126.9,377.9a3.2,2.6 0 1,0 6.4,0a3.2,2.6 0 1,0 -6.4,0M130.1,387.8a3.2,2.6 0 1,0 6.4,0a3.2,2.6 0 1,0 -6.4,0M133.3,394.1a3.2,2.6 0 1,0 6.4,0a3.2,2.6 0 1,0 -6.4,0M136.5,399.4a3.2,2.6 0 1,0 6.4,0a3.2,2.6 0 1,0 -6.4,0M139.7,403.2a3.2,2.6 0 1,0 6.4,0a3.2,2.6 0 1,0 -6.4,0M142.9,406.9a3.2,2.6 0 1,0 6.4,0a3.2,2.6 0 1,0 -6.4,0M146.1,411.7a3.2,2.6 0 1,0 6.4,0a3.2,2.6 0 1,0 -6.4,0M149.3,414.3a3.2,2.6 0 1,0 6.4,0a3.2,2.6 0 1,0 -6.4,0M152.5,417.6a3.2,2.6 0 1,0 6.4,0a3.2,2.6 0 1,0 -6.4,0M155.7,421.1a3.2,2.6 0 1,0 6.4,0a3.2,2.6 0 1,0 -6.4,0M158.9,425.4a3.2,2.6 0 1,0 6.4,0a3.2,2.6 0 1,0 -6.4,0M162.1,427.6a3.2,2.6 0 1,0 6.4,0a3.2,2.6 0 1,0 -6.4,0M165.3,431.6a3.2,2.6 0 1,0 6.4,0a3.2,2.6 0 1,0 -6.4,0M168.5,435.7a3.2,2.6 0 1,0 6.4,0a3.2,2.6 0 1,0 -6.4,0M171.7,438.8a3.2,2.6 0 1,0 6.4,0a3.2,2.6 0 1,0 -6.4,0M174.9,443.0a3.2,2.6 0 1,0 6.4,0a3.2,2.6 0 1,0 -6.4,0M178.1,445.6a3.2,2.6 0 1,0 6.4,0a3.2,2.6 0 1,0 -6.4,0M181.3,451.6a3.2,2.6 0 1,0 6.4,0a3.2,2.6 0 1,0 -6.4,0M184.5,453.5a3.2,2.6 0 1,0 6.4,0a3.2,2.6 0 1,0 -6.4,0M187.7,454.8a3.2,2.6 0 1,0 6.4,0a3.2,2.6 0 1,0 -6.4,0M190.9,456.5a3.2,2.6 0 1,0 6.4,0a3.2,2.6 0 1,0 -6.4,0M194.1,461.4a3.2,2.6 0 1,0 6.4,0a3.2,2.6 0 1,0 -6.4,0M197.3,461.3a3.2,2.6 0 1,0 6.4,0a3.2,2.6 0 1,0 -6.4,0M200.5,462.9a3.2,2.6 0 1,0 6.4,0a3.2,2.6 0 1,0 -6.4,0M203.7,465.3a3.2,2.6 0 1,0 6.4,0a3.2,2.6 0 1,0 -6.4,0M206.9,467.2a3.2,2.6 0 1,0 6.4,0a3.2,2.6 0 1,0 -6.4,0M210.1,470.6a3.2,2.6 0 1,0 6.4,0a3.2,2.6 0 1,0 -6.4,0M213.3,470.6a3.2,2.6 0 1,0 6.4,0a3.2,2.6 0 1,0 -6.4,0M216.5,475.2a3.2,2.6 0 1,0 6.4,0a3.2,2.6 0 1,0 -6.4,0M219.7,472.9a3.2,2.6 0 1,0 6.4,0a3.2,2.6 0 1,0 -6.4,0M222.9,476.8a3.2,2.6 0 1,0 6.4,0a3.2,2.6 0 1,0 -6.4,0M226.1,476.3a3.2,2.6 0 1,0 6.4,0a3.2,2.6 0 1,0 -6.4,0M229.3,481.8a3.2,2.6 0 1,0 6.4,0a3.2,2.6 0 1,0 -6.4,0M232.5,480.5a3.2,2.6 0 1,0 6.4,0a3.2,2.6 0 1,0 -6.4,0M235.7,482.5a3.2,2.6 0 1,0 6.4,0a3.2,2.6 0 1,0 -6.4,0M238.9,485.3a3.2,2.6 0 1,0 6.4,0a3.2,2.6 0 1,0 -6.4,0M242.1,487.0a3.2,2.6 0 1,0 6.4,0a3.2,2.6 0 1,0 -6.4,0M245.3,484.6a3.2,2.6 0 1,0 6.4,0a3.2,2.6 0 1,0 -6.4,0M248.5,486.4a3.2,2.6 0 1,0 6.4,0a3.2,2.6 0 1,0 -6.4,0M251.7,485.5a3.2,2.6 0 1,0 6.4,0a3.2,2.6 0 1,0 -6.4,0M254.9,488.4a3.2,2.6 0 1,0 6.4,0a3.2,2.6 0 1,0 -6.4,0M258.1,488.7a3.2,2.6 0 1,0 6.4,0a3.2,2.6 0 1,0 -6.4,0M261.3,488.8a3.2,2.6 0 1,0 6.4,0a3.2,2.6 0 1,0 -6.4,0M264.5,488.9a3.2,2.6 0 1,0 6.4,0a3.2,2.6 0 1,0 -6.4,0M267.7,489.9a3.2,2.6 0 1,0 6.4,0a3.2,2.6 0 1,0 -6.4,0M270.9,489.9a3.2,2.6 0 1,0 6.4,0a3.2,2.6 0 1,0 -6.4,0M274.1,492.6a3.2,2.6 0 1,0 6.4,0a3.2,2.6 0 1,0 -6.4,0M277.3,494.8a3.2,2.6 0 1,0 6.4,0a3.2,2.6 0 1,0 -6.4,0M280.5,490.1a3.2,2.6 0 1,0 6.4,0a3.2,2.6 0 1,0 -6.4,0M283.7,493.8a3.2,2.6 0 1,0 6.4,0a3.2,2.6 0 1,0 -6.4,0M286.9,494.1a3.2,2.6 0 1,0 6.4,0a3.2,2.6 0 1,0 -6.4,0M290.1,496.3a3.2,2.6 0 1,0 6.4,0a3.2,2.6 0 1,0 -6.4,0M293.3,494.9a3.2,2.6 0 1,0 6.4,0a3.2,2.6 0 1,0 -6.4,0M296.5,497.1a3.2,2.6 0 1,0 6.4,0a3.2,2.6 0 1,0 -6.4,0M299.7,496.6a3.2,2.6 0 1,0 6.4,0a3.2,2.6 0 1,0 -6.4,0M302.9,500.4a3.2,2.6 0 1,0 6.4,0a3.2,2.6 0 1,0 -6.4,0M306.1,500.3a3.2,2.6 0 1,0 6.4,0a3.2,2.6 0 1,0 -6.4,0M309.3,500.8a3.2,2.6 0 1,0 6.4,0a3.2,2.6 0 1,0 -6.4,0M312.5,502.5a3.2,2.6 0 1,0 6.4,0a3.2,2.6 0 1,0 -6.4,0M315.7,502.4a3.2,2.6 0 1,0 6.4,0a3.2,2.6 0 1,0 -6.4,0M318.9,501.0a3.2,2.6 0 1,0 6.4,0a3.2,2.6 0 1,0 -6.4,0M322.1,505.4a3.2,2.6 0 1,0 6.4,0a3.2,2.6 0 1,0 -6.4,0M325.3,505.6a3.2,2.6 0 1,0 6.4,0a3.2,2.6 0 1,0 -6.4,0M328.5,505.6a3.2,2.6 0 1,0 6.4,0a3.2,2.6 0 1,0 -6.4,0M331.7,508.2a3.2,2.6 0 1,0 6.4,0a3.2,2.6 0 1,0 -6.4,0M334.9,509.4a3.2,2.6 0 1,0 6.4,0a3.2,2.6 0 1,0 -6.4,0M338.1,505.9a3.2,2.6 0 1,0 6.4,0a3.2,2.6 0 1,0 -6.4,0M341.3,507.1a3.2,2.6 0 1,0 6.4,0a3.2,2.6 0 1,0 -6.4,0M344.5,511.9a3.2,2.6 0 1,0 6.4,0a3.2,2.6 0 1,0 -6.4,0M347.7,512.3a3.2,2.6 0 1,0 6.4,0a3.2,2.6 0 1,0 -6.4,0M350.9,508.9a3.2,2.6 0 1,0 6.4,0a3.2,2.6 0 1,0 -6.4,0M354.1,508.6a3.2,2.6 0 1,0 6.4,0a3.2,2.6 0 1,0 -6.4,0M357.3,510.0a3.2,2.6 0 1,0 6.4,0a3.2,2.6 0 1,0 -6.4,0M360.5,510.6a3.2,2.6 0 1,0 6.4,0a3.2,2.6 0 1,0 -6.4,0M363.7,508.9a3.2,2.6 0 1,0 6.4,0a3.2,2.6 0 1,0 -6.4,0M366.9,512.2a3.2,2.6 0 1,0 6.4,0a3.2,2.6 0 1,0 -6.4,0M370.1,510.0a3.2,2.6 0 1,0 6.4,0a3.2,2.6 0 1,0 -6.4,0M373.3,510.3a3.2,2.6 0 1,0 6.4,0a3.2,2.6 0 1,0 -6.4,0M376.5,514.5a3.2,2.6 0 1,0 6.4,0a3.2,2.6 0 1,0 -6.4,0M379.7,511.7a3.2,2.6 0 1,0 6.4,0a3.2,2.6 0 1,0 -6.4,0M382.9,513.1a3.2,2.6 0 1,0 6.4,0a3.2,2.6 0 1,0 -6.4,0M386.1,514.6a3.2,2.6 0 1,0 6.4,0a3.2,2.6 0 1,0 -6.4,0M389.3,515.3a3.2,2.6 0 1,0 6.4,0a3.2,2.6 0 1,0 -6.4,0M392.5,513.3a3.2,2.6 0 1,0 6.4,0a3.2,2.6 0 1,0 -6.4,0M395.7,514.4a3.2,2.6 0 1,0 6.4,0a3.2,2.6 0 1,0 -6.4,0M398.9,513.0a3.2,2.6 0 1,0 6.4,0a3.2,2.6 0 1,0 -6.4,0M402.1,518.4a3.2,2.6 0 1,0 6.4,0a3.2,2.6 0 1,0 -6.4,0M405.3,516.7a3.2,2.6 0 1,0 6.4,0a3.2,2.6 0 1,0 -6.4,0M408.5,513.6a3.2,2.6 0 1,0 6.4,0a3.2,2.6 0 1,0 -6.4,0M411.7,516.2a3.2,2.6 0 1,0 6.4,0a3.2,2.6 0 1,0 -6.4,0M414.9,518.1a3.2,2.6 0 1,0 6.4,0a3.2,2.6 0 1,0 -6.4,0M418.1,518.1a3.2,2.6 0 1,0 6.4,0a3.2,2.6 0 1,0 -6.4,0M421.3,521.4a3.2,2.6 0 1,0 6.4,0a3.2,2.6 0 1,0 -6.4,0M424.5,521.0a3.2,2.6 0 1,0 6.4,0a3.2,2.6 0 1,0 -6.4,0M427.7,517.6a3.2,2.6 0 1,0 6.4,0a3.2,2.6 0 1,0 -6.4,0M430.9,519.2a3.2,2.6 0 1,0 6.4,0a3.2,2.6 0 1,0 -6.4,0M434.1,517.3a3.2,2.6 0 1,0 6.4,0a3.2,2.6 0 1,0 -6.4,0M437.3,521.3a3.2,2.6 0 1,0 6.4,0a3.2,2.6 0 1,0 -6.4,0M440.5,521.7a3.2,2.6 0 1,0 6.4,0a3.2,2.6 0 1,0 -6.4,0M443.7,527.8a3.2,2.6 0 1,0 6.4,0a3.2,2.6 0 1,0 -6.4,0M446.9,522.8a3.2,2.6 0 1,0 6.4,0a3.2,2.6 0 1,0 -6.4,0M450.1,518.6a3.2,2.6 0 1,0 6.4,0a3.2,2.6 0 1,0 -6.4,0M453.3,522.2a3.2,2.6 0 1,0 6.4,0a3.2,2.6 0 1,0 -6.4,0M456.5,524.3a3.2,2.6 0 1,0 6.4,0a3.2,2.6 0 1,0 -6.4,0M459.7,521.6a3.2,2.6 0 1,0 6.4,0a3.2,2.6 0 1,0 -6.4,0M462.9,522.8a3.2,2.6 0 1,0 6.4,0a3.2,2.6 0 1,0 -6.4,0M466.1,524.3a3.2,2.6 0 1,0 6.4,0a3.2,2.6 0 1,0 -6.4,0M469.3,526.1a3.2,2.6 0 1,0 6.4,0a3.2,2.6 0 1,0 -6.4,0M472.5,525.2a3.2,2.6 0 1,0 6.4,0a3.2,2.6 0 1,0 -6.4,0M475.7,523.8a3.2,2.6 0 1,0 6.4,0a3.2,2.6 0 1,0 -6.4,0M478.9,527.8a3.2,2.6 0 1,0 6.4,0a3.2,2.6 0 1,0 -6.4,0M482.1,525.0a3.2,2.6 0 1,0 6.4,0a3.2,2.6 0 1,0 -6.4,0M485.3,525.2a3.2,2.6 0 1,0 6.4,0a3.2,2.6 0 1,0 -6.4,0M488.5,523.4a3.2,2.6 0 1,0 6.4,0a3.2,2.6 0 1,0 -6.4,0M491.7,524.9a3.2,2.6 0 1,0 6.4,0a3.2,2.6 0 1,0 -6.4,0M494.9,528.4a3.2,2.6 0 1,0 6.4,0a3.2,2.6 0 1,0 -6.4,0M498.1,523.1a3.2,2.6 0 1,0 6.4,0a3.2,2.6 0 1,0 -6.4,0M501.3,526.8a3.2,2.6 0 1,0 6.4,0a3.2,2.6 0 1,0 -6.4,0M504.5,528.7a3.2,2.6 0 1,0 6.4,0a3.2,2.6 0 1,0 -6.4,0M507.7,526.2a3.2,2.6 0 1,0 6.4,0a3.2,2.6 0 1,0 -6.4,0M510.9,527.7a3.2,2.6 0 1,0 6.4,0a3.2,2.6 0 1,0 -6.4,0M514.1,524.5a3.2,2.6 0 1,0 6.4,0a3.2,2.6 0 1,0 -6.4,0M69.3,540.6a3.2,2.6 0 1,0 6.4,0a3.2,2.6 0 1,0 -6.4,0M72.5,542.0a3.2,2.6 0 1,0 6.4,0a3.2,2.6 0 1,0 -6.4,0M75.7,542.2a3.2,2.6 0 1,0 6.4,0a3.2,2.6 0 1,0 -6.4,0M78.9,541.9a3.2,2.6 0 1,0 6.4,0a3.2,2.6 0 1,0 -6.4,0M82.1,542.5a3.2,2.6 0 1,0 6.4,0a3.2,2.6 0 1,0 -6.4,0M85.3,542.6a3.2,2.6 0 1,0 6.4,0a3.2,2.6 0 1,0 -6.4,0M88.5,541.5a3.2,2.6 0 1,0 6.4,0a3.2,2.6 0 1,0 -6.4,0M91.7,538.2a3.2,2.6 0 1,0 6.4,0a3.2,2.6 0 1,0 -6.4,0M94.9,526.3a3.2,2.6 0 1,0 6.4,0a3.2,2.6 0 1,0 -6.4,0M98.1,513.4a3.2,2.6 0 1,0 6.4,0a3.2,2.6 0 1,0 -6.4,0M101.3,501.1a3.2,2.6 0 1,0 6.4,0a3.2,2.6 0 1,0 -6.4,0M104.5,490.2a3.2,2.6 0 1,0 6.4,0a3.2,2.6 0 1,0 -6.4,0M107.7,477.9a3.2,2.6 0 1,0 6.4,0a3.2,2.6 0 1,0 -6.4,0M110.9,470.3a3.2,2.6 0 1,0 6.4,0a3.2,2.6 0 1,0 -6.4,0M114.1,460.6a3.2,2.6 0 1,0 6.4,0a3.2,2.6 0 1,0 -6.4,0M117.3,452.3a3.2,2.6 0 1,0 6.4,0a3.2,2.6 0 1,0 -6.4,0M120.5,444.1a3.2,2.6 0 1,0 6.4,0a3.2,2.6 0 1,0 -6.4,0M123.7,438.1a3.2,2.6 0 1,0 6.4,0a3.2,2.6 0 1,0 -6.4,0M126.9,436.6a3.2,2.6 0 1,0 6.4,0a3.2,2.6 0 1,0 -6.4,0M130.1,439.7a3.2,2.6 0 1,0 6.4,0a3.2,2.6 0 1,0 -6.4,0M133.3,442.7a3.2,2.6 0 1,0 6.4,0a3.2,2.6 0 1,0 -6.4,0M136.5,446.1a3.2,2.6 0 1,0 6.4,0a3.2,2.6 0 1,0 -6.4,0M139.7,451.5a3.2,2.6 0 1,0 6.4,0a3.2,2.6 0 1,0 -6.4,0M142.9,452.1a3.2,2.6 0 1,0 6.4,0a3.2,2.6 0 1,0 -6.4,0M146.1,454.5a3.2,2.6 0 1,0 6.4,0a3.2,2.6 0 1,0 -6.4,0M149.3,458.8a3.2,2.6 0 1,0 6.4,0a3.2,2.6 0 1,0 -6.4,0M152.5,460.7a3.2,2.6 0 1,0 6.4,0a3.2,2.6 0 1,0 -6.4,0M155.7,462.2a3.2,2.6 0 1,0 6.4,0a3.2,2.6 0 1,0 -6.4,0M158.9,463.3a3.2,2.6 0 1,0 6.4,0a3.2,2.6 0 1,0 -6.4,0M162.1,468.4a3.2,2.6 0 1,0 6.4,0a3.2,2.6 0 1,0 -6.4,0M165.3,468.2a3.2,2.6 0 1,0 6.4,0a3.2,2.6 0 1,0 -6.4,0M168.5,470.3a3.2,2.6 0 1,0 6.4,0a3.2,2.6 0 1,0 -6.4,0M171.7,471.1a3.2,2.6 0 1,0 6.4,0a3.2,2.6 0 1,0 -6.4,0M174.9,471.3a3.2,2.6 0 1,0 6.4,0a3.2,2.6 0 1,0 -6.4,0M178.1,473.0a3.2,2.6 0 1,0 6.4,0a3.2,2.6 0 1,0 -6.4,0M181.3,476.7a3.2,2.6 0 1,0 6.4,0a3.2,2.6 0 1,0 -6.4,0M184.5,478.3a3.2,2.6 0 1,0 6.4,0a3.2,2.6 0 1,0 -6.4,0M187.7,479.2a3.2,2.6 0 1,0 6.4,0a3.2,2.6 0 1,0 -6.4,0M190.9,479.5a3.2,2.6 0 1,0 6.4,0a3.2,2.6 0 1,0 -6.4,0M194.1,480.8a3.2,2.6 0 1,0 6.4,0a3.2,2.6 0 1,0 -6.4,0M197.3,483.6a3.2,2.6 0 1,0 6.4,0a3.2,2.6 0 1,0 -6.4,0M200.5,483.5a3.2,2.6 0 1,0 6.4,0a3.2,2.6 0 1,0 -6.4,0M203.7,487.7a3.2,2.6 0 1,0 6.4,0a3.2,2.6 0 1,0 -6.4,0M206.9,489.3a3.2,2.6 0 1,0 6.4,0a3.2,2.6 0 1,0 -6.4,0M210.1,492.6a3.2,2.6 0 1,0 6.4,0a3.2,2.6 0 1,0 -6.4,0M213.3,491.2a3.2,2.6 0 1,0 6.4,0a3.2,2.6 0 1,0 -6.4,0M216.5,490.3a3.2,2.6 0 1,0 6.4,0a3.2,2.6 0 1,0 -6.4,0M219.7,491.0a3.2,2.6 0 1,0 6.4,0a3.2,2.6 0 1,0 -6.4,0M222.9,488.5a3.2,2.6 0 1,0 6.4,0a3.2,2.6 0 1,0 -6.4,0M226.1,493.3a3.2,2.6 0 1,0 6.4,0a3.2,2.6 0 1,0 -6.4,0M229.3,495.0a3.2,2.6 0 1,0 6.4,0a3.2,2.6 0 1,0 -6.4,0M232.5,497.6a3.2,2.6 0 1,0 6.4,0a3.2,2.6 0 1,0 -6.4,0M235.7,498.3a3.2,2.6 0 1,0 6.4,0a3.2,2.6 0 1,0 -6.4,0M238.9,499.3a3.2,2.6 0 1,0 6.4,0a3.2,2.6 0 1,0 -6.4,0M242.1,499.7a3.2,2.6 0 1,0 6.4,0a3.2,2.6 0 1,0 -6.4,0M245.3,501.3a3.2,2.6 0 1,0 6.4,0a3.2,2.6 0 1,0 -6.4,0M248.5,503.2a3.2,2.6 0 1,0 6.4,0a3.2,2.6 0 1,0 -6.4,0M251.7,500.4a3.2,2.6 0 1,0 6.4,0a3.2,2.6 0 1,0 -6.4,0M254.9,502.0a3.2,2.6 0 1,0 6.4,0a3.2,2.6 0 1,0 -6.4,0M258.1,501.2a3.2,2.6 0 1,0 6.4,0a3.2,2.6 0 1,0 -6.4,0M261.3,506.2a3.2,2.6 0 1,0 6.4,0a3.2,2.6 0 1,0 -6.4,0M264.5,506.0a3.2,2.6 0 1,0 6.4,0a3.2,2.6 0 1,0 -6.4,0M267.7,505.5a3.2,2.6 0 1,0 6.4,0a3.2,2.6 0 1,0 -6.4,0M270.9,502.8a3.2,2.6 0 1,0 6.4,0a3.2,2.6 0 1,0 -6.4,0M274.1,505.0a3.2,2.6 0 1,0 6.4,0a3.2,2.6 0 1,0 -6.4,0M277.3,504.6a3.2,2.6 0 1,0 6.4,0a3.2,2.6 0 1,0 -6.4,0M280.5,505.5a3.2,2.6 0 1,0 6.4,0a3.2,2.6 0 1,0 -6.4,0M283.7,505.3a3.2,2.6 0 1,0 6.4,0a3.2,2.6 0 1,0 -6.4,0M286.9,506.7a3.2,2.6 0 1,0 6.4,0a3.2,2.6 0 1,0 -6.4,0M290.1,505.6a3.2,2.6 0 1,0 6.4,0a3.2,2.6 0 1,0 -6.4,0M293.3,508.1a3.2,2.6 0 1,0 6.4,0a3.2,2.6 0 1,0 -6.4,0M296.5,507.8a3.2,2.6 0 1,0 6.4,0a3.2,2.6 0 1,0 -6.4,0M299.7,507.5a3.2,2.6 0 1,0 6.4,0a3.2,2.6 0 1,0 -6.4,0M302.9,508.5a3.2,2.6 0 1,0 6.4,0a3.2,2.6 0 1,0 -6.4,0M306.1,508.5a3.2,2.6 0 1,0 6.4,0a3.2,2.6 0 1,0 -6.4,0M309.3,511.3a3.2,2.6 0 1,0 6.4,0a3.2,2.6 0 1,0 -6.4,0M312.5,510.1a3.2,2.6 0 1,0 6.4,0a3.2,2.6 0 1,0 -6.4,0M315.7,511.7a3.2,2.6 0 1,0 6.4,0a3.2,2.6 0 1,0 -6.4,0M318.9,511.3a3.2,2.6 0 1,0 6.4,0a3.2,2.6 0 1,0 -6.4,0M322.1,510.0a3.2,2.6 0 1,0 6.4,0a3.2,2.6 0 1,0 -6.4,0M325.3,514.7a3.2,2.6 0 1,0 6.4,0a3.2,2.6 0 1,0 -6.4,0M328.5,511.9a3.2,2.6 0 1,0 6.4,0a3.2,2.6 0 1,0 -6.4,0M331.7,515.5a3.2,2.6 0 1,0 6.4,0a3.2,2.6 0 1,0 -6.4,0M334.9,515.5a3.2,2.6 0 1,0 6.4,0a3.2,2.6 0 1,0 -6.4,0M338.1,512.5a3.2,2.6 0 1,0 6.4,0a3.2,2.6 0 1,0 -6.4,0M341.3,514.2a3.2,2.6 0 1,0 6.4,0a3.2,2.6 0 1,0 -6.4,0M344.5,515.4a3.2,2.6 0 1,0 6.4,0a3.2,2.6 0 1,0 -6.4,0M347.7,515.2a3.2,2.6 0 1,0 6.4,0a3.2,2.6 0 1,0 -6.4,0M350.9,514.8a3.2,2.6 0 1,0 6.4,0a3.2,2.6 0 1,0 -6.4,0M354.1,518.6a3.2,2.6 0 1,0 6.4,0a3.2,2.6 0 1,0 -6.4,0M357.3,516.9a3.2,2.6 0 1,0 6.4,0a3.2,2.6 0 1,0 -6.4,0M360.5,518.1a3.2,2.6 0 1,0 6.4,0a3.2,2.6 0 1,0 -6.4,0M363.7,516.7a3.2,2.6 0 1,0 6.4,0a3.2,2.6 0 1,0 -6.4,0M366.9,518.2a3.2,2.6 0 1,0 6.4,0a3.2,2.6 0 1,0 -6.4,0M370.1,516.3a3.2,2.6 0 1,0 6.4,0a3.2,2.6 0 1,0 -6.4,0M373.3,517.9a3.2,2.6 0 1,0 6.4,0a3.2,2.6 0 1,0 -6.4,0M376.5,519.4a3.2,2.6 0 1,0 6.4,0a3.2,2.6 0 1,0 -6.4,0M379.7,518.8a3.2,2.6 0 1,0 6.4,0a3.2,2.6 0 1,0 -6.4,0M382.9,518.4a3.2,2.6 0 1,0 6.4,0a3.2,2.6 0 1,0 -6.4,0M386.1,517.7a3.2,2.6 0 1,0 6.4,0a3.2,2.6 0 1,0 -6.4,0M389.3,520.7a3.2,2.6 0 1,0 6.4,0a3.2,2.6 0 1,0 -6.4,0M392.5,521.6a3.2,2.6 0 1,0 6.4,0a3.2,2.6 0 1,0 -6.4,0M395.7,520.8a3.2,2.6 0 1,0 6.4,0a3.2,2.6 0 1,0 -6.4,0M398.9,520.1a3.2,2.6 0 1,0 6.4,0a3.2,2.6 0 1,0 -6.4,0M402.1,522.9a3.2,2.6 0 1,0 6.4,0a3.2,2.6 0 1,0 -6.4,0M405.3,526.9a3.2,2.6 0 1,0 6.4,0a3.2,2.6 0 1,0 -6.4,0M408.5,521.5a3.2,2.6 0 1,0 6.4,0a3.2,2.6 0 1,0 -6.4,0M411.7,522.9a3.2,2.6 0 1,0 6.4,0a3.2,2.6 0 1,0 -6.4,0M414.9,523.1a3.2,2.6 0 1,0 6.4,0a3.2,2.6 0 1,0 -6.4,0M418.1,517.3a3.2,2.6 0 1,0 6.4,0a3.2,2.6 0 1,0 -6.4,0M421.3,523.0a3.2,2.6 0 1,0 6.4,0a3.2,2.6 0 1,0 -6.4,0M424.5,521.6a3.2,2.6 0 1,0 6.4,0a3.2,2.6 0 1,0 -6.4,0M427.7,526.3a3.2,2.6 0 1,0 6.4,0a3.2,2.6 0 1,0 -6.4,0M430.9,523.4a3.2,2.6 0 1,0 6.4,0a3.2,2.6 0 1,0 -6.4,0M434.1,522.7a3.2,2.6 0 1,0 6.4,0a3.2,2.6 0 1,0 -6.4,0M437.3,524.3a3.2,2.6 0 1,0 6.4,0a3.2,2.6 0 1,0 -6.4,0M440.5,525.4a3.2,2.6 0 1,0 6.4,0a3.2,2.6 0 1,0 -6.4,0M443.7,524.2a3.2,2.6 0 1,0 6.4,0a3.2,2.6 0 1,0 -6.4,0M446.9,525.6a3.2,2.6 0 1,0 6.4,0a3.2,2.6 0 1,0 -6.4,0M450.1,523.0a3.2,2.6 0 1,0 6.4,0a3.2,2.6 0 1,0 -6.4,0M453.3,525.7a3.2,2.6 0 1,0 6.4,0a3.2,2.6 0 1,0 -6.4,0M456.5,528.1a3.2,2.6 0 1,0 6.4,0a3.2,2.6 0 1,0 -6.4,0M459.7,530.9a3.2,2.6 0 1,0 6.4,0a3.2,2.6 0 1,0 -6.4,0M462.9,528.3a3.2,2.6 0 1,0 6.4,0a3.2,2.6 0 1,0 -6.4,0M466.1,527.5a3.2,2.6 0 1,0 6.4,0a3.2,2.6 0 1,0 -6.4,0M469.3,529.8a3.2,2.6 0 1,0 6.4,0a3.2,2.6 0 1,0 -6.4,0M472.5,529.7a3.2,2.6 0 1,0 6.4,0a3.2,2.6 0 1,0 -6.4,0M475.7,531.4a3.2,2.6 0 1,0 6.4,0a3.2,2.6 0 1,0 -6.4,0M478.9,530.4a3.2,2.6 0 1,0 6.4,0a3.2,2.6 0 1,0 -6.4,0M482.1,528.0a3.2,2.6 0 1,0 6.4,0a3.2,2.6 0 1,0 -6.4,0M485.3,529.2a3.2,2.6 0 1,0 6.4,0a3.2,2.6 0 1,0 -6.4,0M488.5,529.4a3.2,2.6 0 1,0 6.4,0a3.2,2.6 0 1,0 -6.4,0M491.7,530.0a3.2,2.6 0 1,0 6.4,0a3.2,2.6 0 1,0 -6.4,0M494.9,530.1a3.2,2.6 0 1,0 6.4,0a3.2,2.6 0 1,0 -6.4,0M498.1,528.0a3.2,2.6 0 1,0 6.4,0a3.2,2.6 0 1,0 -6.4,0M501.3,525.1a3.2,2.6 0 1,0 6.4,0a3.2,2.6 0 1,0 -6.4,0M504.5,528.5a3.2,2.6 0 1,0 6.4,0a3.2,2.6 0 1,0 -6.4,0M507.7,525.4a3.2,2.6 0 1,0 6.4,0a3.2,2.6 0 1,0 -6.4,0M510.9,530.4a3.2,2.6 0 1,0 6.4,0a3.2,2.6 0 1,0 -6.4,0M514.1,530.0a3.2,2.6 0 1,0 6.4,0a3.2,2.6 0 1,0 -6.4,0M69.3,541.5a3.2,2.6 0 1,0 6.4,0a3.2,2.6 0 1,0 -6.4,0M72.5,541.2a3.2,2.6 0 1,0 6.4,0a3.2,2.6 0 1,0 -6.4,0M75.7,541.7a3.2,2.6 0 1,0 6.4,0a3.2,2.6 0 1,0 -6.4,0M78.9,542.4a3.2,2.6 0 1,0 6.4,0a3.2,2.6 0 1,0 -6.4,0M82.1,541.0a3.2,2.6 0 1,0 6.4,0a3.2,2.6 0 1,0 -6.4,0M85.3,541.7a3.2,2.6 0 1,0 6.4,0a3.2,2.6 0 1,0 -6.4,0M88.5,540.5a3.2,2.6 0 1,0 6.4,0a3.2,2.6 0 1,0 -6.4,0M91.7,539.2a3.2,2.6 0 1,0 6.4,0a3.2,2.6 0 1,0 -6.4,0M94.9,534.3a3.2,2.6 0 1,0 6.4,0a3.2,2.6 0 1,0 -6.4,0M98.1,529.5a3.2,2.6 0 1,0 6.4,0a3.2,2.6 0 1,0 -6.4,0M101.3,524.0a3.2,2.6 0 1,0 6.4,0a3.2,2.6 0 1,0 -6.4,0M104.5,516.8a3.2,2.6 0 1,0 6.4,0a3.2,2.6 0 1,0 -6.4,0M107.7,510.5a3.2,2.6 0 1,0 6.4,0a3.2,2.6 0 1,0 -6.4,0M110.9,505.1a3.2,2.6 0 1,0 6.4,0a3.2,2.6 0 1,0 -6.4,0M114.1,499.8a3.2,2.6 0 1,0 6.4,0a3.2,2.6 0 1,0 -6.4,0M117.3,494.7a3.2,2.6 0 1,0 6.4,0a3.2,2.6 0 1,0 -6.4,0M120.5,492.2a3.2,2.6 0 1,0 6.4,0a3.2,2.6 0 1,0 -6.4,0M123.7,487.9a3.2,2.6 0 1,0 6.4,0a3.2,2.6 0 1,0 -6.4,0M126.9,484.8a3.2,2.6 0 1,0 6.4,0a3.2,2.6 0 1,0 -6.4,0M130.1,486.9a3.2,2.6 0 1,0 6.4,0a3.2,2.6 0 1,0 -6.4,0M133.3,490.2a3.2,2.6 0 1,0 6.4,0a3.2,2.6 0 1,0 -6.4,0M136.5,488.8a3.2,2.6 0 1,0 6.4,0a3.2,2.6 0 1,0 -6.4,0M139.7,491.8a3.2,2.6 0 1,0 6.4,0a3.2,2.6 0 1,0 -6.4,0M142.9,493.1a3.2,2.6 0 1,0 6.4,0a3.2,2.6 0 1,0 -6.4,0M146.1,494.5a3.2,2.6 0 1,0 6.4,0a3.2,2.6 0 1,0 -6.4,0M149.3,493.2a3.2,2.6 0 1,0 6.4,0a3.2,2.6 0 1,0 -6.4,0M152.5,497.5a3.2,2.6 0 1,0 6.4,0a3.2,2.6 0 1,0 -6.4,0M155.7,496.8a3.2,2.6 0 1,0 6.4,0a3.2,2.6 0 1,0 -6.4,0M158.9,497.4a3.2,2.6 0 1,0 6.4,0a3.2,2.6 0 1,0 -6.4,0M162.1,498.4a3.2,2.6 0 1,0 6.4,0a3.2,2.6 0 1,0 -6.4,0M165.3,500.4a3.2,2.6 0 1,0 6.4,0a3.2,2.6 0 1,0 -6.4,0M168.5,500.7a3.2,2.6 0 1,0 6.4,0a3.2,2.6 0 1,0 -6.4,0M171.7,501.4a3.2,2.6 0 1,0 6.4,0a3.2,2.6 0 1,0 -6.4,0M174.9,504.0a3.2,2.6 0 1,0 6.4,0a3.2,2.6 0 1,0 -6.4,0M178.1,502.5a3.2,2.6 0 1,0 6.4,0a3.2,2.6 0 1,0 -6.4,0M181.3,503.1a3.2,2.6 0 1,0 6.4,0a3.2,2.6 0 1,0 -6.4,0M184.5,506.2a3.2,2.6 0 1,0 6.4,0a3.2,2.6 0 1,0 -6.4,0M187.7,507.1a3.2,2.6 0 1,0 6.4,0a3.2,2.6 0 1,0 -6.4,0M190.9,508.5a3.2,2.6 0 1,0 6.4,0a3.2,2.6 0 1,0 -6.4,0M194.1,506.8a3.2,2.6 0 1,0 6.4,0a3.2,2.6 0 1,0 -6.4,0M197.3,510.4a3.2,2.6 0 1,0 6.4,0a3.2,2.6 0 1,0 -6.4,0M200.5,510.4a3.2,2.6 0 1,0 6.4,0a3.2,2.6 0 1,0 -6.4,0M203.7,512.9a3.2,2.6 0 1,0 6.4,0a3.2,2.6 0 1,0 -6.4,0M206.9,509.8a3.2,2.6 0 1,0 6.4,0a3.2,2.6 0 1,0 -6.4,0M210.1,512.4a3.2,2.6 0 1,0 6.4,0a3.2,2.6 0 1,0 -6.4,0M213.3,512.5a3.2,2.6 0 1,0 6.4,0a3.2,2.6 0 1,0 -6.4,0M216.5,511.6a3.2,2.6 0 1,0 6.4,0a3.2,2.6 0 1,0 -6.4,0M219.7,513.4a3.2,2.6 0 1,0 6.4,0a3.2,2.6 0 1,0 -6.4,0M222.9,516.7a3.2,2.6 0 1,0 6.4,0a3.2,2.6 0 1,0 -6.4,0M226.1,515.3a3.2,2.6 0 1,0 6.4,0a3.2,2.6 0 1,0 -6.4,0M229.3,515.8a3.2,2.6 0 1,0 6.4,0a3.2,2.6 0 1,0 -6.4,0M232.5,518.9a3.2,2.6 0 1,0 6.4,0a3.2,2.6 0 1,0 -6.4,0M235.7,519.9a3.2,2.6 0 1,0 6.4,0a3.2,2.6 0 1,0 -6.4,0M238.9,520.7a3.2,2.6 0 1,0 6.4,0a3.2,2.6 0 1,0 -6.4,0M242.1,519.0a3.2,2.6 0 1,0 6.4,0a3.2,2.6 0 1,0 -6.4,0M245.3,520.8a3.2,2.6 0 1,0 6.4,0a3.2,2.6 0 1,0 -6.4,0M248.5,522.8a3.2,2.6 0 1,0 6.4,0a3.2,2.6 0 1,0 -6.4,0M251.7,520.9a3.2,2.6 0 1,0 6.4,0a3.2,2.6 0 1,0 -6.4,0M254.9,521.3a3.2,2.6 0 1,0 6.4,0a3.2,2.6 0 1,0 -6.4,0M258.1,524.1a3.2,2.6 0 1,0 6.4,0a3.2,2.6 0 1,0 -6.4,0M261.3,525.5a3.2,2.6 0 1,0 6.4,0a3.2,2.6 0 1,0 -6.4,0M264.5,521.9a3.2,2.6 0 1,0 6.4,0a3.2,2.6 0 1,0 -6.4,0M267.7,519.9a3.2,2.6 0 1,0 6.4,0a3.2,2.6 0 1,0 -6.4,0M270.9,521.9a3.2,2.6 0 1,0 6.4,0a3.2,2.6 0 1,0 -6.4,0M274.1,522.8a3.2,2.6 0 1,0 6.4,0a3.2,2.6 0 1,0 -6.4,0M277.3,524.3a3.2,2.6 0 1,0 6.4,0a3.2,2.6 0 1,0 -6.4,0M280.5,525.6a3.2,2.6 0 1,0 6.4,0a3.2,2.6 0 1,0 -6.4,0M283.7,524.7a3.2,2.6 0 1,0 6.4,0a3.2,2.6 0 1,0 -6.4,0M286.9,524.1a3.2,2.6 0 1,0 6.4,0a3.2,2.6 0 1,0 -6.4,0M290.1,525.8a3.2,2.6 0 1,0 6.4,0a3.2,2.6 0 1,0 -6.4,0M293.3,524.3a3.2,2.6 0 1,0 6.4,0a3.2,2.6 0 1,0 -6.4,0M296.5,526.2a3.2,2.6 0 1,0 6.4,0a3.2,2.6 0 1,0 -6.4,0M299.7,525.6a3.2,2.6 0 1,0 6.4,0a3.2,2.6 0 1,0 -6.4,0M302.9,531.5a3.2,2.6 0 1,0 6.4,0a3.2,2.6 0 1,0 -6.4,0M306.1,528.7a3.2,2.6 0 1,0 6.4,0a3.2,2.6 0 1,0 -6.4,0M309.3,526.1a3.2,2.6 0 1,0 6.4,0a3.2,2.6 0 1,0 -6.4,0M312.5,525.9a3.2,2.6 0 1,0 6.4,0a3.2,2.6 0 1,0 -6.4,0M315.7,526.8a3.2,2.6 0 1,0 6.4,0a3.2,2.6 0 1,0 -6.4,0M318.9,524.5a3.2,2.6 0 1,0 6.4,0a3.2,2.6 0 1,0 -6.4,0M322.1,525.7a3.2,2.6 0 1,0 6.4,0a3.2,2.6 0 1,0 -6.4,0M325.3,525.5a3.2,2.6 0 1,0 6.4,0a3.2,2.6 0 1,0 -6.4,0M328.5,528.0a3.2,2.6 0 1,0 6.4,0a3.2,2.6 0 1,0 -6.4,0M331.7,525.7a3.2,2.6 0 1,0 6.4,0a3.2,2.6 0 1,0 -6.4,0M334.9,525.1a3.2,2.6 0 1,0 6.4,0a3.2,2.6 0 1,0 -6.4,0M338.1,524.2a3.2,2.6 0 1,0 6.4,0a3.2,2.6 0 1,0 -6.4,0M341.3,524.9a3.2,2.6 0 1,0 6.4,0a3.2,2.6 0 1,0 -6.4,0M344.5,527.2a3.2,2.6 0 1,0 6.4,0a3.2,2.6 0 1,0 -6.4,0M347.7,527.6a3.2,2.6 0 1,0 6.4,0a3.2,2.6 0 1,0 -6.4,0M350.9,530.7a3.2,2.6 0 1,0 6.4,0a3.2,2.6 0 1,0 -6.4,0M354.1,528.1a3.2,2.6 0 1,0 6.4,0a3.2,2.6 0 1,0 -6.4,0M357.3,531.7a3.2,2.6 0 1,0 6.4,0a3.2,2.6 0 1,0 -6.4,0M360.5,530.8a3.2,2.6 0 1,0 6.4,0a3.2,2.6 0 1,0 -6.4,0M363.7,530.6a3.2,2.6 0 1,0 6.4,0a3.2,2.6 0 1,0 -6.4,0M366.9,527.1a3.2,2.6 0 1,0 6.4,0a3.2,2.6 0 1,0 -6.4,0M370.1,528.6a3.2,2.6 0 1,0 6.4,0a3.2,2.6 0 1,0 -6.4,0M373.3,532.6a3.2,2.6 0 1,0 6.4,0a3.2,2.6 0 1,0 -6.4,0M376.5,533.8a3.2,2.6 0 1,0 6.4,0a3.2,2.6 0 1,0 -6.4,0M379.7,531.5a3.2,2.6 0 1,0 6.4,0a3.2,2.6 0 1,0 -6.4,0M382.9,532.5a3.2,2.6 0 1,0 6.4,0a3.2,2.6 0 1,0 -6.4,0M386.1,530.2a3.2,2.6 0 1,0 6.4,0a3.2,2.6 0 1,0 -6.4,0M389.3,530.3a3.2,2.6 0 1,0 6.4,0a3.2,2.6 0 1,0 -6.4,0M392.5,529.8a3.2,2.6 0 1,0 6.4,0a3.2,2.6 0 1,0 -6.4,0M395.7,533.2a3.2,2.6 0 1,0 6.4,0a3.2,2.6 0 1,0 -6.4,0M398.9,532.1a3.2,2.6 0 1,0 6.4,0a3.2,2.6 0 1,0 -6.4,0M402.1,531.2a3.2,2.6 0 1,0 6.4,0a3.2,2.6 0 1,0 -6.4,0M405.3,531.2a3.2,2.6 0 1,0 6.4,0a3.2,2.6 0 1,0 -6.4,0M408.5,533.3a3.2,2.6 0 1,0 6.4,0a3.2,2.6 0 1,0 -6.4,0M411.7,533.1a3.2,2.6 0 1,0 6.4,0a3.2,2.6 0 1,0 -6.4,0M414.9,531.0a3.2,2.6 0 1,0 6.4,0a3.2,2.6 0 1,0 -6.4,0M418.1,536.5a3.2,2.6 0 1,0 6.4,0a3.2,2.6 0 1,0 -6.4,0M421.3,533.8a3.2,2.6 0 1,0 6.4,0a3.2,2.6 0 1,0 -6.4,0M424.5,533.5a3.2,2.6 0 1,0 6.4,0a3.2,2.6 0 1,0 -6.4,0M427.7,536.8a3.2,2.6 0 1,0 6.4,0a3.2,2.6 0 1,0 -6.4,0M430.9,536.0a3.2,2.6 0 1,0 6.4,0a3.2,2.6 0 1,0 -6.4,0M434.1,533.7a3.2,2.6 0 1,0 6.4,0a3.2,2.6 0 1,0 -6.4,0M437.3,535.1a3.2,2.6 0 1,0 6.4,0a3.2,2.6 0 1,0 -6.4,0M440.5,531.7a3.2,2.6 0 1,0 6.4,0a3.2,2.6 0 1,0 -6.4,0M443.7,532.7a3.2,2.6 0 1,0 6.4,0a3.2,2.6 0 1,0 -6.4,0M446.9,529.3a3.2,2.6 0 1,0 6.4,0a3.2,2.6 0 1,0 -6.4,0M450.1,536.9a3.2,2.6 0 1,0 6.4,0a3.2,2.6 0 1,0 -6.4,0M453.3,530.3a3.2,2.6 0 1,0 6.4,0a3.2,2.6 0 1,0 -6.4,0M456.5,536.1a3.2,2.6 0 1,0 6.4,0a3.2,2.6 0 1,0 -6.4,0M459.7,533.1a3.2,2.6 0 1,0 6.4,0a3.2,2.6 0 1,0 -6.4,0M462.9,532.9a3.2,2.6 0 1,0 6.4,0a3.2,2.6 0 1,0 -6.4,0M466.1,534.8a3.2,2.6 0 1,0 6.4,0a3.2,2.6 0 1,0 -6.4,0M469.3,535.9a3.2,2.6 0 1,0 6.4,0a3.2,2.6 0 1,0 -6.4,0M472.5,536.8a3.2,2.6 0 1,0 6.4,0a3.2,2.6 0 1,0 -6.4,0M475.7,539.4a3.2,2.6 0 1,0 6.4,0a3.2,2.6 0 1,0 -6.4,0M478.9,536.1a3.2,2.6 0 1,0 6.4,0a3.2,2.6 0 1,0 -6.4,0M482.1,537.2a3.2,2.6 0 1,0 6.4,0a3.2,2.6 0 1,0 -6.4,0M485.3,533.8a3.2,2.6 0 1,0 6.4,0a3.2,2.6 0 1,0 -6.4,0M488.5,536.7a3.2,2.6 0 1,0 6.4,0a3.2,2.6 0 1,0 -6.4,0M491.7,535.4a3.2,2.6 0 1,0 6.4,0a3.2,2.6 0 1,0 -6.4,0M494.9,534.1a3.2,2.6 0 1,0 6.4,0a3.2,2.6 0 1,0 -6.4,0M498.1,535.2a3.2,2.6 0 1,0 6.4,0a3.2,2.6 0 1,0 -6.4,0M501.3,535.5a3.2,2.6 0 1,0 6.4,0a3.2,2.6 0 1,0 -6.4,0M504.5,536.5a3.2,2.6 0 1,0 6.4,0a3.2,2.6 0 1,0 -6.4,0M507.7,537.2a3.2,2.6 0 1,0 6.4,0a3.2,2.6 0 1,0 -6.4,0M510.9,535.3a3.2,2.6 0 1,0 6.4,0a3.2,2.6 0 1,0 -6.4,0M514.1,535.0a3.2,2.6 0 1,0 6.4,0a3.2,2.6 0 1,0 -6.4,0M69.3,541.1a3.2,2.6 0 1,0 6.4,0a3.2,2.6 0 1,0 -6.4,0M72.5,542.1a3.2,2.6 0 1,0 6.4,0a3.2,2.6 0 1,0 -6.4,0M75.7,541.9a3.2,2.6 0 1,0 6.4,0a3.2,2.6 0 1,0 -6.4,0M78.9,542.0a3.2,2.6 0 1,0 6.4,0a3.2,2.6 0 1,0 -6.4,0M82.1,541.9a3.2,2.6 0 1,0 6.4,0a3.2,2.6 0 1,0 -6.4,0M85.3,541.5a3.2,2.6 0 1,0 6.4,0a3.2,2.6 0 1,0 -6.4,0M88.5,541.6a3.2,2.6 0 1,0 6.4,0a3.2,2.6 0 1,0 -6.4,0M91.7,540.1a3.2,2.6 0 1,0 6.4,0a3.2,2.6 0 1,0 -6.4,0M94.9,534.2a3.2,2.6 0 1,0 6.4,0a3.2,2.6 0 1,0 -6.4,0M98.1,531.7a3.2,2.6 0 1,0 6.4,0a3.2,2.6 0 1,0 -6.4,0M101.3,530.6a3.2,2.6 0 1,0 6.4,0a3.2,2.6 0 1,0 -6.4,0M104.5,525.0a3.2,2.6 0 1,0 6.4,0a3.2,2.6 0 1,0 -6.4,0M107.7,522.0a3.2,2.6 0 1,0 6.4,0a3.2,2.6 0 1,0 -6.4,0M110.9,519.5a3.2,2.6 0 1,0 6.4,0a3.2,2.6 0 1,0 -6.4,0M114.1,516.6a3.2,2.6 0 1,0 6.4,0a3.2,2.6 0 1,0 -6.4,0M117.3,517.3a3.2,2.6 0 1,0 6.4,0a3.2,2.6 0 1,0 -6.4,0M120.5,514.4a3.2,2.6 0 1,0 6.4,0a3.2,2.6 0 1,0 -6.4,0M123.7,513.1a3.2,2.6 0 1,0 6.4,0a3.2,2.6 0 1,0 -6.4,0M126.9,513.8a3.2,2.6 0 1,0 6.4,0a3.2,2.6 0 1,0 -6.4,0M130.1,515.3a3.2,2.6 0 1,0 6.4,0a3.2,2.6 0 1,0 -6.4,0M133.3,512.8a3.2,2.6 0 1,0 6.4,0a3.2,2.6 0 1,0 -6.4,0M136.5,515.6a3.2,2.6 0 1,0 6.4,0a3.2,2.6 0 1,0 -6.4,0M139.7,515.8a3.2,2.6 0 1,0 6.4,0a3.2,2.6 0 1,0 -6.4,0M142.9,516.2a3.2,2.6 0 1,0 6.4,0a3.2,2.6 0 1,0 -6.4,0M146.1,516.9a3.2,2.6 0 1,0 6.4,0a3.2,2.6 0 1,0 -6.4,0M149.3,517.0a3.2,2.6 0 1,0 6.4,0a3.2,2.6 0 1,0 -6.4,0M152.5,519.5a3.2,2.6 0 1,0 6.4,0a3.2,2.6 0 1,0 -6.4,0M155.7,519.0a3.2,2.6 0 1,0 6.4,0a3.2,2.6 0 1,0 -6.4,0M158.9,519.2a3.2,2.6 0 1,0 6.4,0a3.2,2.6 0 1,0 -6.4,0M162.1,520.9a3.2,2.6 0 1,0 6.4,0a3.2,2.6 0 1,0 -6.4,0M165.3,520.9a3.2,2.6 0 1,0 6.4,0a3.2,2.6 0 1,0 -6.4,0M168.5,520.7a3.2,2.6 0 1,0 6.4,0a3.2,2.6 0 1,0 -6.4,0M171.7,520.9a3.2,2.6 0 1,0 6.4,0a3.2,2.6 0 1,0 -6.4,0M174.9,522.9a3.2,2.6 0 1,0 6.4,0a3.2,2.6 0 1,0 -6.4,0M178.1,521.7a3.2,2.6 0 1,0 6.4,0a3.2,2.6 0 1,0 -6.4,0M181.3,521.2a3.2,2.6 0 1,0 6.4,0a3.2,2.6 0 1,0 -6.4,0M184.5,520.5a3.2,2.6 0 1,0 6.4,0a3.2,2.6 0 1,0 -6.4,0M187.7,521.5a3.2,2.6 0 1,0 6.4,0a3.2,2.6 0 1,0 -6.4,0M190.9,521.0a3.2,2.6 0 1,0 6.4,0a3.2,2.6 0 1,0 -6.4,0M194.1,522.8a3.2,2.6 0 1,0 6.4,0a3.2,2.6 0 1,0 -6.4,0M197.3,523.4a3.2,2.6 0 1,0 6.4,0a3.2,2.6 0 1,0 -6.4,0M200.5,520.9a3.2,2.6 0 1,0 6.4,0a3.2,2.6 0 1,0 -6.4,0M203.7,524.1a3.2,2.6 0 1,0 6.4,0a3.2,2.6 0 1,0 -6.4,0M206.9,525.6a3.2,2.6 0 1,0 6.4,0a3.2,2.6 0 1,0 -6.4,0M210.1,525.8a3.2,2.6 0 1,0 6.4,0a3.2,2.6 0 1,0 -6.4,0M213.3,525.0a3.2,2.6 0 1,0 6.4,0a3.2,2.6 0 1,0 -6.4,0M216.5,528.6a3.2,2.6 0 1,0 6.4,0a3.2,2.6 0 1,0 -6.4,0M219.7,526.7a3.2,2.6 0 1,0 6.4,0a3.2,2.6 0 1,0 -6.4,0M222.9,526.5a3.2,2.6 0 1,0 6.4,0a3.2,2.6 0 1,0 -6.4,0M226.1,527.1a3.2,2.6 0 1,0 6.4,0a3.2,2.6 0 1,0 -6.4,0M229.3,528.7a3.2,2.6 0 1,0 6.4,0a3.2,2.6 0 1,0 -6.4,0M232.5,530.3a3.2,2.6 0 1,0 6.4,0a3.2,2.6 0 1,0 -6.4,0M235.7,530.6a3.2,2.6 0 1,0 6.4,0a3.2,2.6 0 1,0 -6.4,0M238.9,529.3a3.2,2.6 0 1,0 6.4,0a3.2,2.6 0 1,0 -6.4,0M242.1,527.3a3.2,2.6 0 1,0 6.4,0a3.2,2.6 0 1,0 -6.4,0M245.3,528.1a3.2,2.6 0 1,0 6.4,0a3.2,2.6 0 1,0 -6.4,0M248.5,527.8a3.2,2.6 0 1,0 6.4,0a3.2,2.6 0 1,0 -6.4,0M251.7,529.0a3.2,2.6 0 1,0 6.4,0a3.2,2.6 0 1,0 -6.4,0M254.9,526.9a3.2,2.6 0 1,0 6.4,0a3.2,2.6 0 1,0 -6.4,0M258.1,529.8a3.2,2.6 0 1,0 6.4,0a3.2,2.6 0 1,0 -6.4,0M261.3,530.8a3.2,2.6 0 1,0 6.4,0a3.2,2.6 0 1,0 -6.4,0M264.5,529.9a3.2,2.6 0 1,0 6.4,0a3.2,2.6 0 1,0 -6.4,0M267.7,531.1a3.2,2.6 0 1,0 6.4,0a3.2,2.6 0 1,0 -6.4,0M270.9,529.4a3.2,2.6 0 1,0 6.4,0a3.2,2.6 0 1,0 -6.4,0M274.1,528.9a3.2,2.6 0 1,0 6.4,0a3.2,2.6 0 1,0 -6.4,0M277.3,530.6a3.2,2.6 0 1,0 6.4,0a3.2,2.6 0 1,0 -6.4,0M280.5,533.7a3.2,2.6 0 1,0 6.4,0a3.2,2.6 0 1,0 -6.4,0M283.7,534.0a3.2,2.6 0 1,0 6.4,0a3.2,2.6 0 1,0 -6.4,0M286.9,532.1a3.2,2.6 0 1,0 6.4,0a3.2,2.6 0 1,0 -6.4,0M290.1,535.2a3.2,2.6 0 1,0 6.4,0a3.2,2.6 0 1,0 -6.4,0M293.3,533.0a3.2,2.6 0 1,0 6.4,0a3.2,2.6 0 1,0 -6.4,0M296.5,536.2a3.2,2.6 0 1,0 6.4,0a3.2,2.6 0 1,0 -6.4,0M299.7,534.7a3.2,2.6 0 1,0 6.4,0a3.2,2.6 0 1,0 -6.4,0M302.9,533.2a3.2,2.6 0 1,0 6.4,0a3.2,2.6 0 1,0 -6.4,0M306.1,535.3a3.2,2.6 0 1,0 6.4,0a3.2,2.6 0 1,0 -6.4,0M309.3,532.8a3.2,2.6 0 1,0 6.4,0a3.2,2.6 0 1,0 -6.4,0M312.5,532.7a3.2,2.6 0 1,0 6.4,0a3.2,2.6 0 1,0 -6.4,0M315.7,531.9a3.2,2.6 0 1,0 6.4,0a3.2,2.6 0 1,0 -6.4,0M318.9,534.9a3.2,2.6 0 1,0 6.4,0a3.2,2.6 0 1,0 -6.4,0M322.1,534.4a3.2,2.6 0 1,0 6.4,0a3.2,2.6 0 1,0 -6.4,0M325.3,534.5a3.2,2.6 0 1,0 6.4,0a3.2,2.6 0 1,0 -6.4,0M328.5,534.0a3.2,2.6 0 1,0 6.4,0a3.2,2.6 0 1,0 -6.4,0M331.7,537.4a3.2,2.6 0 1,0 6.4,0a3.2,2.6 0 1,0 -6.4,0M334.9,534.3a3.2,2.6 0 1,0 6.4,0a3.2,2.6 0 1,0 -6.4,0M338.1,533.9a3.2,2.6 0 1,0 6.4,0a3.2,2.6 0 1,0 -6.4,0M341.3,537.4a3.2,2.6 0 1,0 6.4,0a3.2,2.6 0 1,0 -6.4,0M344.5,537.8a3.2,2.6 0 1,0 6.4,0a3.2,2.6 0 1,0 -6.4,0M347.7,536.0a3.2,2.6 0 1,0 6.4,0a3.2,2.6 0 1,0 -6.4,0M350.9,532.4a3.2,2.6 0 1,0 6.4,0a3.2,2.6 0 1,0 -6.4,0M354.1,534.7a3.2,2.6 0 1,0 6.4,0a3.2,2.6 0 1,0 -6.4,0M357.3,537.1a3.2,2.6 0 1,0 6.4,0a3.2,2.6 0 1,0 -6.4,0M360.5,536.3a3.2,2.6 0 1,0 6.4,0a3.2,2.6 0 1,0 -6.4,0M363.7,539.5a3.2,2.6 0 1,0 6.4,0a3.2,2.6 0 1,0 -6.4,0M366.9,534.2a3.2,2.6 0 1,0 6.4,0a3.2,2.6 0 1,0 -6.4,0M370.1,538.3a3.2,2.6 0 1,0 6.4,0a3.2,2.6 0 1,0 -6.4,0M373.3,536.1a3.2,2.6 0 1,0 6.4,0a3.2,2.6 0 1,0 -6.4,0M376.5,539.9a3.2,2.6 0 1,0 6.4,0a3.2,2.6 0 1,0 -6.4,0M379.7,537.4a3.2,2.6 0 1,0 6.4,0a3.2,2.6 0 1,0 -6.4,0M382.9,539.5a3.2,2.6 0 1,0 6.4,0a3.2,2.6 0 1,0 -6.4,0M386.1,536.2a3.2,2.6 0 1,0 6.4,0a3.2,2.6 0 1,0 -6.4,0M389.3,534.7a3.2,2.6 0 1,0 6.4,0a3.2,2.6 0 1,0 -6.4,0M392.5,535.3a3.2,2.6 0 1,0 6.4,0a3.2,2.6 0 1,0 -6.4,0M395.7,536.3a3.2,2.6 0 1,0 6.4,0a3.2,2.6 0 1,0 -6.4,0M398.9,535.6a3.2,2.6 0 1,0 6.4,0a3.2,2.6 0 1,0 -6.4,0M402.1,540.2a3.2,2.6 0 1,0 6.4,0a3.2,2.6 0 1,0 -6.4,0M405.3,540.7a3.2,2.6 0 1,0 6.4,0a3.2,2.6 0 1,0 -6.4,0M408.5,538.8a3.2,2.6 0 1,0 6.4,0a3.2,2.6 0 1,0 -6.4,0M411.7,536.5a3.2,2.6 0 1,0 6.4,0a3.2,2.6 0 1,0 -6.4,0M414.9,538.6a3.2,2.6 0 1,0 6.4,0a3.2,2.6 0 1,0 -6.4,0M418.1,537.6a3.2,2.6 0 1,0 6.4,0a3.2,2.6 0 1,0 -6.4,0M421.3,542.0a3.2,2.6 0 1,0 6.4,0a3.2,2.6 0 1,0 -6.4,0M424.5,539.8a3.2,2.6 0 1,0 6.4,0a3.2,2.6 0 1,0 -6.4,0M427.7,540.2a3.2,2.6 0 1,0 6.4,0a3.2,2.6 0 1,0 -6.4,0M430.9,538.3a3.2,2.6 0 1,0 6.4,0a3.2,2.6 0 1,0 -6.4,0M434.1,534.8a3.2,2.6 0 1,0 6.4,0a3.2,2.6 0 1,0 -6.4,0M437.3,537.4a3.2,2.6 0 1,0 6.4,0a3.2,2.6 0 1,0 -6.4,0M440.5,536.8a3.2,2.6 0 1,0 6.4,0a3.2,2.6 0 1,0 -6.4,0M443.7,540.1a3.2,2.6 0 1,0 6.4,0a3.2,2.6 0 1,0 -6.4,0M446.9,539.7a3.2,2.6 0 1,0 6.4,0a3.2,2.6 0 1,0 -6.4,0M450.1,538.0a3.2,2.6 0 1,0 6.4,0a3.2,2.6 0 1,0 -6.4,0M453.3,539.2a3.2,2.6 0 1,0 6.4,0a3.2,2.6 0 1,0 -6.4,0M456.5,543.7a3.2,2.6 0 1,0 6.4,0a3.2,2.6 0 1,0 -6.4,0M459.7,538.3a3.2,2.6 0 1,0 6.4,0a3.2,2.6 0 1,0 -6.4,0M462.9,538.6a3.2,2.6 0 1,0 6.4,0a3.2,2.6 0 1,0 -6.4,0M466.1,540.1a3.2,2.6 0 1,0 6.4,0a3.2,2.6 0 1,0 -6.4,0M469.3,539.1a3.2,2.6 0 1,0 6.4,0a3.2,2.6 0 1,0 -6.4,0M472.5,539.7a3.2,2.6 0 1,0 6.4,0a3.2,2.6 0 1,0 -6.4,0M475.7,541.8a3.2,2.6 0 1,0 6.4,0a3.2,2.6 0 1,0 -6.4,0M478.9,544.4a3.2,2.6 0 1,0 6.4,0a3.2,2.6 0 1,0 -6.4,0M482.1,536.3a3.2,2.6 0 1,0 6.4,0a3.2,2.6 0 1,0 -6.4,0M485.3,540.3a3.2,2.6 0 1,0 6.4,0a3.2,2.6 0 1,0 -6.4,0M488.5,540.5a3.2,2.6 0 1,0 6.4,0a3.2,2.6 0 1,0 -6.4,0M491.7,540.3a3.2,2.6 0 1,0 6.4,0a3.2,2.6 0 1,0 -6.4,0M494.9,540.1a3.2,2.6 0 1,0 6.4,0a3.2,2.6 0 1,0 -6.4,0M498.1,539.8a3.2,2.6 0 1,0 6.4,0a3.2,2.6 0 1,0 -6.4,0M501.3,543.0a3.2,2.6 0 1,0 6.4,0a3.2,2.6 0 1,0 -6.4,0M504.5,539.6a3.2,2.6 0 1,0 6.4,0a3.2,2.6 0 1,0 -6.4,0M507.7,540.4a3.2,2.6 0 1,0 6.4,0a3.2,2.6 0 1,0 -6.4,0M510.9,540.7a3.2,2.6 0 1,0 6.4,0a3.2,2.6 0 1,0 -6.4,0M514.1,541.0a3.2,2.6 0 1,0 6.4,0a3.2,2.6 0 1,0 -6.4,0" fill="none" stroke="#000" stroke-width="1.4"/>
<path d="M88.3,542.5 L88.8,542.5 L89.3,542.2 L89.8,541.3 L90.3,539.1 L90.8,536.2 L91.3,533.1 L91.8,530.0 L92.3,527.0 L92.8,523.9 L93.3,520.8 L93.8,517.7 L94.3,514.7 L94.8,511.7 L95.3,508.7 L95.8,505.8 L96.3,503.0 L96.8,500.2 L97.3,497.5 L97.8,494.8 L98.3,492.2 L98.8,489.5 L99.3,486.8 L99.8,484.2 L100.3,481.5 L100.8,478.7 L101.3,476.0 L101.8,473.3 L102.3,470.6 L102.8,467.9 L103.3,465.1 L103.8,462.4 L104.3,459.7 L104.8,457.0 L105.3,454.2 L105.8,451.5 L106.3,448.7 L106.8,445.9 L107.3,443.1 L107.8,440.3 L108.3,437.5 L108.8,434.8 L109.3,432.1 L109.8,429.5 L110.3,427.0 L110.8,424.5 L111.3,422.1 L111.8,419.8 L112.3,417.5 L112.8,415.3 L113.3,413.3 L113.8,411.5 L114.3,409.7 L114.8,408.1 L115.3,406.6 L115.8,405.1 L116.3,403.7 L116.8,402.3 L117.3,400.9 L117.8,399.6 L118.3,398.3 L118.8,397.1 L119.3,395.9 L119.8,394.8 L120.3,393.7 L120.8,392.7 L121.3,391.8 L121.8,390.8 L122.3,390.0 L122.8,389.1 L123.3,388.3 L123.8,387.5 L124.3,386.7 L124.8,386.0 L125.3,385.3 L125.8,384.6 L126.3,384.0 L126.8,383.5 L127.3,383.0 L127.8,382.6 L128.3,382.1 L128.8,381.8 L129.3,381.8 L129.8,382.3 L130.3,383.3 L130.8,384.5 L131.3,385.7 L131.8,386.9 L132.3,388.0 L132.5,388.4 L134.5,392.5 L136.5,395.7 L138.5,398.3 L140.5,400.5 L142.5,402.5 L144.5,404.7 L146.5,407.0 L148.5,409.4 L150.5,411.8 L152.5,414.1 L154.5,416.4 L156.5,418.6 L158.5,420.8 L160.5,423.0 L162.5,425.1 L164.5,427.3 L166.5,429.4 L168.5,431.6 L170.5,433.7 L172.5,435.9 L174.5,438.1 L176.5,440.4 L178.5,442.5 L180.5,444.5 L182.5,446.4 L184.5,448.2 L186.5,449.9 L188.5,451.6 L190.5,453.2 L192.5,454.8 L194.5,456.3 L196.5,457.8 L198.5,459.3 L200.5,460.7 L202.5,462.1 L204.5,463.5 L206.5,464.8 L208.5,466.1 L210.5,467.3 L212.5,468.5 L214.5,469.6 L216.5,470.7 L218.5,471.7 L220.5,472.7 L222.5,473.7 L224.5,474.7 L226.5,475.8 L228.5,476.8 L230.5,477.8 L232.5,478.9 L234.5,479.9 L236.5,481.0 L238.5,482.0 L240.5,483.0 L242.5,483.9 L244.5,484.8 L246.5,485.6 L248.5,486.4 L250.5,487.1 L252.5,487.8 L254.5,488.4 L256.5,489.0 L258.5,489.5 L260.5,490.1 L262.5,490.6 L264.5,491.1 L266.5,491.6 L268.5,492.1 L270.5,492.6 L272.5,493.0 L274.5,493.5 L276.5,493.9 L278.5,494.4 L280.5,494.8 L282.5,495.2 L284.5,495.6 L286.5,496.0 L288.5,496.4 L290.5,496.8 L292.5,497.1 L294.5,497.5 L296.5,497.9 L298.5,498.3 L300.5,498.7 L302.5,499.1 L304.5,499.5 L306.5,499.9 L308.5,500.3 L310.5,500.7 L312.5,501.1 L314.5,501.5 L316.5,501.9 L318.5,502.3 L320.5,502.7 L322.5,503.1 L324.5,503.5 L326.5,503.9 L328.5,504.3 L330.5,504.7 L332.5,505.0 L334.5,505.4 L336.5,505.8 L338.5,506.2 L340.5,506.5 L342.5,506.9 L344.5,507.3 L346.5,507.6 L348.5,507.9 L350.5,508.3 L352.5,508.6 L354.5,508.9 L356.5,509.3 L358.5,509.6 L360.5,509.9 L362.5,510.2 L364.5,510.6 L366.5,510.9 L368.5,511.2 L370.5,511.5 L372.5,511.8 L374.5,512.1 L376.5,512.4 L378.5,512.7 L380.5,513.0 L382.5,513.3 L384.5,513.6 L386.5,513.9 L388.5,514.1 L390.5,514.4 L392.5,514.7 L394.5,515.0 L396.5,515.2 L398.5,515.5 L400.5,515.8 L402.5,516.0 L404.5,516.3 L406.5,516.6 L408.5,516.8 L410.5,517.1 L412.5,517.3 L414.5,517.6 L416.5,517.8 L418.5,518.1 L420.5,518.3 L422.5,518.5 L424.5,518.8 L426.5,519.0 L428.5,519.3 L430.5,519.5 L432.5,519.7 L434.5,520.0 L436.5,520.2 L438.5,520.4 L440.5,520.6 L442.5,520.8 L444.5,521.0 L446.5,521.2 L448.5,521.4 L450.5,521.6 L452.5,521.8 L454.5,522.0 L456.5,522.2 L458.5,522.4 L460.5,522.5 L462.5,522.7 L464.5,522.9 L466.5,523.0 L468.5,523.2 L470.5,523.4 L472.5,523.5 L474.5,523.7 L476.5,523.8 L478.5,524.0 L480.5,524.1 L482.5,524.3 L484.5,524.4 L486.5,524.6 L488.5,524.7 L490.5,524.8 L492.5,525.0 L494.5,525.1 L496.5,525.2 L498.5,525.4 L500.5,525.5 L502.5,525.6 L504.5,525.7 L506.5,525.8 L508.5,525.9 L510.5,526.0 L512.5,526.1 L514.5,526.2 L516.5,526.3 L518.5,526.4 L519.0,526.5" fill="none" stroke="#000" stroke-width="2.1" stroke-linejoin="round"/>
<path d="M92.5,542.5 L93.0,542.5 L93.5,542.4 L94.0,541.8 L94.5,540.7 L95.0,539.1 L95.5,537.5 L96.0,535.7 L96.5,533.9 L97.0,532.2 L97.5,530.3 L98.0,528.5 L98.5,526.6 L99.0,524.6 L99.5,522.6 L100.0,520.6 L100.5,518.6 L101.0,516.6 L101.5,514.6 L102.0,512.6 L102.5,510.7 L103.0,508.9 L103.5,507.0 L104.0,505.2 L104.5,503.4 L105.0,501.5 L105.5,499.5 L106.0,497.4 L106.5,495.3 L107.0,493.2 L107.5,491.2 L108.0,489.2 L108.5,487.3 L109.0,485.5 L109.5,483.8 L110.0,482.1 L110.5,480.5 L111.0,479.0 L111.5,477.5 L112.0,476.0 L112.5,474.6 L113.0,473.3 L113.5,472.0 L114.0,470.8 L114.5,469.5 L115.0,468.3 L115.5,467.0 L116.0,465.7 L116.5,464.3 L117.0,463.0 L117.5,461.6 L118.0,460.3 L118.5,459.0 L119.0,457.7 L119.5,456.4 L120.0,455.2 L120.5,453.9 L121.0,452.7 L121.5,451.5 L122.0,450.4 L122.5,449.3 L123.0,448.2 L123.5,447.2 L124.0,446.2 L124.5,445.2 L125.0,444.3 L125.5,443.3 L126.0,442.5 L126.5,441.7 L127.0,441.1 L127.5,440.5 L128.0,440.0 L128.5,439.6 L129.0,439.3 L129.5,439.3 L130.0,439.6 L130.5,440.0 L131.0,440.5 L131.5,441.0 L132.0,441.4 L132.5,441.9 L134.5,443.8 L136.5,445.6 L138.5,447.4 L140.5,449.1 L142.5,450.8 L144.5,452.4 L146.5,454.0 L148.5,455.5 L150.5,456.9 L152.5,458.3 L154.5,459.7 L156.5,461.0 L158.5,462.3 L160.5,463.6 L162.5,464.9 L164.5,466.1 L166.5,467.4 L168.5,468.6 L170.5,469.8 L172.5,470.9 L174.5,472.1 L176.5,473.2 L178.5,474.2 L180.5,475.3 L182.5,476.2 L184.5,477.2 L186.5,478.2 L188.5,479.1 L190.5,480.0 L192.5,480.9 L194.5,481.8 L196.5,482.6 L198.5,483.5 L200.5,484.3 L202.5,485.1 L204.5,485.8 L206.5,486.6 L208.5,487.4 L210.5,488.1 L212.5,488.8 L214.5,489.5 L216.5,490.2 L218.5,490.9 L220.5,491.5 L222.5,492.2 L224.5,492.8 L226.5,493.4 L228.5,494.0 L230.5,494.6 L232.5,495.1 L234.5,495.7 L236.5,496.3 L238.5,496.8 L240.5,497.3 L242.5,497.8 L244.5,498.3 L246.5,498.8 L248.5,499.3 L250.5,499.8 L252.5,500.2 L254.5,500.7 L256.5,501.1 L258.5,501.6 L260.5,502.0 L262.5,502.4 L264.5,502.8 L266.5,503.2 L268.5,503.6 L270.5,504.0 L272.5,504.3 L274.5,504.7 L276.5,505.0 L278.5,505.3 L280.5,505.6 L282.5,506.0 L284.5,506.3 L286.5,506.6 L288.5,506.9 L290.5,507.2 L292.5,507.4 L294.5,507.7 L296.5,508.0 L298.5,508.3 L300.5,508.6 L302.5,508.9 L304.5,509.1 L306.5,509.4 L308.5,509.7 L310.5,510.0 L312.5,510.2 L314.5,510.5 L316.5,510.8 L318.5,511.0 L320.5,511.3 L322.5,511.5 L324.5,511.8 L326.5,512.1 L328.5,512.3 L330.5,512.6 L332.5,512.8 L334.5,513.1 L336.5,513.3 L338.5,513.6 L340.5,513.8 L342.5,514.1 L344.5,514.3 L346.5,514.6 L348.5,514.8 L350.5,515.1 L352.5,515.3 L354.5,515.6 L356.5,515.8 L358.5,516.0 L360.5,516.3 L362.5,516.5 L364.5,516.8 L366.5,517.0 L368.5,517.3 L370.5,517.5 L372.5,517.8 L374.5,518.0 L376.5,518.2 L378.5,518.5 L380.5,518.7 L382.5,519.0 L384.5,519.2 L386.5,519.4 L388.5,519.7 L390.5,519.9 L392.5,520.1 L394.5,520.3 L396.5,520.6 L398.5,520.8 L400.5,521.0 L402.5,521.2 L404.5,521.4 L406.5,521.6 L408.5,521.8 L410.5,522.1 L412.5,522.3 L414.5,522.5 L416.5,522.6 L418.5,522.8 L420.5,523.0 L422.5,523.2 L424.5,523.4 L426.5,523.6 L428.5,523.8 L430.5,524.0 L432.5,524.2 L434.5,524.4 L436.5,524.5 L438.5,524.7 L440.5,524.9 L442.5,525.1 L444.5,525.2 L446.5,525.4 L448.5,525.6 L450.5,525.7 L452.5,525.9 L454.5,526.1 L456.5,526.2 L458.5,526.4 L460.5,526.5 L462.5,526.7 L464.5,526.8 L466.5,527.0 L468.5,527.1 L470.5,527.3 L472.5,527.4 L474.5,527.6 L476.5,527.7 L478.5,527.9 L480.5,528.0 L482.5,528.2 L484.5,528.3 L486.5,528.4 L488.5,528.6 L490.5,528.7 L492.5,528.8 L494.5,529.0 L496.5,529.1 L498.5,529.2 L500.5,529.4 L502.5,529.5 L504.5,529.6 L506.5,529.7 L508.5,529.8 L510.5,530.0 L512.5,530.1 L514.5,530.2 L516.5,530.3 L518.5,530.4 L519.0,530.4" fill="none" stroke="#000" stroke-width="2.1" stroke-linejoin="round"/>
<path d="M91.0,542.5 L91.5,542.5 L92.0,542.5 L92.5,542.3 L93.0,541.9 L93.5,541.3 L94.0,540.7 L94.5,540.0 L95.0,539.4 L95.5,538.7 L96.0,538.0 L96.5,537.3 L97.0,536.6 L97.5,535.8 L98.0,535.1 L98.5,534.3 L99.0,533.6 L99.5,532.8 L100.0,532.0 L100.5,531.2 L101.0,530.3 L101.5,529.5 L102.0,528.6 L102.5,527.7 L103.0,526.8 L103.5,525.8 L104.0,524.9 L104.5,523.9 L105.0,523.0 L105.5,522.0 L106.0,521.1 L106.5,520.1 L107.0,519.1 L107.5,518.1 L108.0,517.1 L108.5,516.1 L109.0,515.1 L109.5,514.1 L110.0,513.2 L110.5,512.2 L111.0,511.2 L111.5,510.2 L112.0,509.2 L112.5,508.3 L113.0,507.3 L113.5,506.3 L114.0,505.3 L114.5,504.4 L115.0,503.5 L115.5,502.6 L116.0,501.8 L116.5,501.1 L117.0,500.3 L117.5,499.6 L118.0,498.9 L118.5,498.3 L119.0,497.7 L119.5,497.1 L120.0,496.5 L120.5,496.0 L121.0,495.5 L121.5,495.0 L122.0,494.5 L122.5,494.1 L123.0,493.7 L123.5,493.2 L124.0,492.8 L124.5,492.4 L125.0,492.0 L125.5,491.5 L126.0,491.1 L126.5,490.7 L127.0,490.3 L127.5,489.9 L128.0,489.5 L128.5,489.1 L129.0,488.7 L129.5,488.5 L130.0,488.4 L130.5,488.5 L131.0,488.6 L131.5,488.6 L132.0,488.7 L132.5,488.8 L134.5,489.2 L136.5,489.7 L138.5,490.1 L140.5,490.6 L142.5,491.1 L144.5,491.7 L146.5,492.3 L148.5,493.0 L150.5,493.7 L152.5,494.4 L154.5,495.1 L156.5,495.8 L158.5,496.5 L160.5,497.2 L162.5,497.8 L164.5,498.3 L166.5,498.9 L168.5,499.4 L170.5,499.9 L172.5,500.4 L174.5,500.9 L176.5,501.3 L178.5,501.8 L180.5,502.3 L182.5,502.8 L184.5,503.3 L186.5,503.8 L188.5,504.3 L190.5,504.8 L192.5,505.3 L194.5,505.8 L196.5,506.3 L198.5,506.8 L200.5,507.3 L202.5,507.8 L204.5,508.4 L206.5,508.9 L208.5,509.4 L210.5,509.9 L212.5,510.4 L214.5,510.9 L216.5,511.4 L218.5,511.9 L220.5,512.4 L222.5,512.9 L224.5,513.4 L226.5,513.9 L228.5,514.4 L230.5,514.9 L232.5,515.4 L234.5,515.9 L236.5,516.4 L238.5,516.9 L240.5,517.4 L242.5,517.9 L244.5,518.3 L246.5,518.7 L248.5,519.1 L250.5,519.5 L252.5,519.9 L254.5,520.2 L256.5,520.5 L258.5,520.9 L260.5,521.2 L262.5,521.5 L264.5,521.7 L266.5,522.0 L268.5,522.3 L270.5,522.6 L272.5,522.8 L274.5,523.1 L276.5,523.3 L278.5,523.6 L280.5,523.8 L282.5,524.0 L284.5,524.3 L286.5,524.5 L288.5,524.7 L290.5,524.9 L292.5,525.1 L294.5,525.3 L296.5,525.5 L298.5,525.7 L300.5,525.8 L302.5,526.0 L304.5,526.2 L306.5,526.3 L308.5,526.5 L310.5,526.6 L312.5,526.7 L314.5,526.9 L316.5,527.0 L318.5,527.1 L320.5,527.3 L322.5,527.4 L324.5,527.5 L326.5,527.6 L328.5,527.7 L330.5,527.9 L332.5,528.0 L334.5,528.1 L336.5,528.2 L338.5,528.3 L340.5,528.4 L342.5,528.6 L344.5,528.7 L346.5,528.8 L348.5,528.9 L350.5,529.0 L352.5,529.2 L354.5,529.3 L356.5,529.4 L358.5,529.5 L360.5,529.6 L362.5,529.8 L364.5,529.9 L366.5,530.0 L368.5,530.1 L370.5,530.2 L372.5,530.4 L374.5,530.5 L376.5,530.6 L378.5,530.7 L380.5,530.8 L382.5,531.0 L384.5,531.1 L386.5,531.2 L388.5,531.3 L390.5,531.4 L392.5,531.5 L394.5,531.6 L396.5,531.8 L398.5,531.9 L400.5,532.0 L402.5,532.1 L404.5,532.2 L406.5,532.3 L408.5,532.4 L410.5,532.5 L412.5,532.6 L414.5,532.7 L416.5,532.8 L418.5,533.0 L420.5,533.1 L422.5,533.2 L424.5,533.3 L426.5,533.4 L428.5,533.5 L430.5,533.6 L432.5,533.7 L434.5,533.8 L436.5,533.9 L438.5,534.0 L440.5,534.1 L442.5,534.2 L444.5,534.3 L446.5,534.4 L448.5,534.5 L450.5,534.6 L452.5,534.7 L454.5,534.8 L456.5,534.8 L458.5,534.9 L460.5,535.0 L462.5,535.1 L464.5,535.2 L466.5,535.3 L468.5,535.4 L470.5,535.4 L472.5,535.5 L474.5,535.6 L476.5,535.7 L478.5,535.8 L480.5,535.8 L482.5,535.9 L484.5,536.0 L486.5,536.1 L488.5,536.1 L490.5,536.2 L492.5,536.3 L494.5,536.4 L496.5,536.4 L498.5,536.5 L500.5,536.6 L502.5,536.6 L504.5,536.7 L506.5,536.8 L508.5,536.8 L510.5,536.9 L512.5,537.0 L514.5,537.0 L516.5,537.1 L518.5,537.2 L519.0,537.2" fill="none" stroke="#000" stroke-width="2.1" stroke-linejoin="round"/>
<path d="M91.5,542.5 L92.0,542.5 L92.5,542.4 L93.0,542.2 L93.5,541.7 L94.0,541.0 L94.5,540.3 L95.0,539.5 L95.5,538.8 L96.0,538.1 L96.5,537.4 L97.0,536.8 L97.5,536.1 L98.0,535.5 L98.5,534.8 L99.0,534.2 L99.5,533.6 L100.0,533.0 L100.5,532.4 L101.0,531.9 L101.5,531.3 L102.0,530.8 L102.5,530.3 L103.0,529.7 L103.5,529.2 L104.0,528.7 L104.5,528.2 L105.0,527.7 L105.5,527.3 L106.0,526.8 L106.5,526.3 L107.0,525.8 L107.5,525.3 L108.0,524.8 L108.5,524.4 L109.0,523.9 L109.5,523.4 L110.0,523.0 L110.5,522.6 L111.0,522.2 L111.5,521.9 L112.0,521.5 L112.5,521.2 L113.0,520.9 L113.5,520.6 L114.0,520.3 L114.5,519.9 L115.0,519.6 L115.5,519.3 L116.0,519.0 L116.5,518.6 L117.0,518.3 L117.5,517.9 L118.0,517.6 L118.5,517.3 L119.0,517.0 L119.5,516.8 L120.0,516.5 L120.5,516.3 L121.0,516.1 L121.5,515.9 L122.0,515.7 L122.5,515.5 L123.0,515.3 L123.5,515.2 L124.0,515.0 L124.5,514.8 L125.0,514.7 L125.5,514.5 L126.0,514.4 L126.5,514.2 L127.0,514.1 L127.5,514.0 L128.0,513.8 L128.5,513.7 L129.0,513.6 L129.5,513.6 L130.0,513.6 L130.5,513.6 L131.0,513.7 L131.5,513.7 L132.0,513.8 L132.5,513.9 L134.5,514.1 L136.5,514.3 L138.5,514.6 L140.5,514.8 L142.5,515.0 L144.5,515.3 L146.5,515.5 L148.5,515.7 L150.5,516.0 L152.5,516.2 L154.5,516.5 L156.5,516.7 L158.5,516.9 L160.5,517.1 L162.5,517.4 L164.5,517.6 L166.5,517.8 L168.5,518.0 L170.5,518.3 L172.5,518.5 L174.5,518.8 L176.5,519.0 L178.5,519.3 L180.5,519.6 L182.5,519.9 L184.5,520.2 L186.5,520.6 L188.5,521.0 L190.5,521.3 L192.5,521.7 L194.5,522.1 L196.5,522.5 L198.5,522.9 L200.5,523.2 L202.5,523.5 L204.5,523.8 L206.5,524.1 L208.5,524.3 L210.5,524.6 L212.5,524.8 L214.5,525.1 L216.5,525.3 L218.5,525.5 L220.5,525.8 L222.5,526.0 L224.5,526.2 L226.5,526.4 L228.5,526.6 L230.5,526.9 L232.5,527.1 L234.5,527.3 L236.5,527.5 L238.5,527.7 L240.5,527.9 L242.5,528.1 L244.5,528.3 L246.5,528.4 L248.5,528.6 L250.5,528.8 L252.5,529.0 L254.5,529.2 L256.5,529.3 L258.5,529.5 L260.5,529.7 L262.5,529.9 L264.5,530.0 L266.5,530.2 L268.5,530.4 L270.5,530.5 L272.5,530.7 L274.5,530.9 L276.5,531.1 L278.5,531.2 L280.5,531.4 L282.5,531.6 L284.5,531.8 L286.5,531.9 L288.5,532.1 L290.5,532.3 L292.5,532.5 L294.5,532.6 L296.5,532.8 L298.5,532.9 L300.5,533.0 L302.5,533.2 L304.5,533.3 L306.5,533.4 L308.5,533.5 L310.5,533.6 L312.5,533.7 L314.5,533.8 L316.5,534.0 L318.5,534.1 L320.5,534.2 L322.5,534.3 L324.5,534.4 L326.5,534.4 L328.5,534.5 L330.5,534.6 L332.5,534.7 L334.5,534.8 L336.5,534.9 L338.5,535.0 L340.5,535.1 L342.5,535.2 L344.5,535.3 L346.5,535.3 L348.5,535.4 L350.5,535.5 L352.5,535.6 L354.5,535.7 L356.5,535.8 L358.5,535.9 L360.5,535.9 L362.5,536.0 L364.5,536.1 L366.5,536.2 L368.5,536.3 L370.5,536.4 L372.5,536.4 L374.5,536.5 L376.5,536.6 L378.5,536.7 L380.5,536.8 L382.5,536.8 L384.5,536.9 L386.5,537.0 L388.5,537.1 L390.5,537.1 L392.5,537.2 L394.5,537.3 L396.5,537.3 L398.5,537.4 L400.5,537.5 L402.5,537.6 L404.5,537.6 L406.5,537.7 L408.5,537.8 L410.5,537.8 L412.5,537.9 L414.5,537.9 L416.5,538.0 L418.5,538.1 L420.5,538.1 L422.5,538.2 L424.5,538.3 L426.5,538.3 L428.5,538.4 L430.5,538.4 L432.5,538.5 L434.5,538.6 L436.5,538.6 L438.5,538.7 L440.5,538.7 L442.5,538.8 L444.5,538.8 L446.5,538.9 L448.5,538.9 L450.5,539.0 L452.5,539.0 L454.5,539.1 L456.5,539.1 L458.5,539.2 L460.5,539.2 L462.5,539.3 L464.5,539.3 L466.5,539.3 L468.5,539.4 L470.5,539.4 L472.5,539.5 L474.5,539.5 L476.5,539.5 L478.5,539.6 L480.5,539.6 L482.5,539.6 L484.5,539.7 L486.5,539.7 L488.5,539.8 L490.5,539.8 L492.5,539.8 L494.5,539.9 L496.5,539.9 L498.5,539.9 L500.5,539.9 L502.5,540.0 L504.5,540.0 L506.5,540.0 L508.5,540.1 L510.5,540.1 L512.5,540.1 L514.5,540.1 L516.5,540.2 L518.5,540.2 L519.0,540.2" fill="none" stroke="#000" stroke-width="2.1" stroke-linejoin="round"/>
<text transform="translate(58.5,230.6) scale(1.18,1)" font-family="Liberation Serif" font-weight="bold" text-rendering="geometricPrecision" stroke="#000" stroke-width="0.3" font-size="14.8" text-anchor="end">0</text>
<text transform="translate(58.5,205.9) scale(1.18,1)" font-family="Liberation Serif" font-weight="bold" text-rendering="geometricPrecision" stroke="#000" stroke-width="0.3" font-size="14.8" text-anchor="end">20</text>
<text transform="translate(58.5,181.2) scale(1.18,1)" font-family="Liberation Serif" font-weight="bold" text-rendering="geometricPrecision" stroke="#000" stroke-width="0.3" font-size="14.8" text-anchor="end">40</text>
<text transform="translate(58.5,156.5) scale(1.18,1)" font-family="Liberation Serif" font-weight="bold" text-rendering="geometricPrecision" stroke="#000" stroke-width="0.3" font-size="14.8" text-anchor="end">60</text>
<text transform="translate(58.5,131.8) scale(1.18,1)" font-family="Liberation Serif" font-weight="bold" text-rendering="geometricPrecision" stroke="#000" stroke-width="0.3" font-size="14.8" text-anchor="end">80</text>
<text transform="translate(58.5,107.1) scale(1.18,1)" font-family="Liberation Serif" font-weight="bold" text-rendering="geometricPrecision" stroke="#000" stroke-width="0.3" font-size="14.8" text-anchor="end">100</text>
<text transform="translate(58.5,82.4) scale(1.18,1)" font-family="Liberation Serif" font-weight="bold" text-rendering="geometricPrecision" stroke="#000" stroke-width="0.3" font-size="14.8" text-anchor="end">120</text>
<text transform="translate(58.5,57.69999999999999) scale(1.18,1)" font-family="Liberation Serif" font-weight="bold" text-rendering="geometricPrecision" stroke="#000" stroke-width="0.3" font-size="14.8" text-anchor="end">140</text>
<text transform="translate(58.5,33.0) scale(1.18,1)" font-family="Liberation Serif" font-weight="bold" text-rendering="geometricPrecision" stroke="#000" stroke-width="0.3" font-size="14.8" text-anchor="end">160</text>
<text transform="translate(71.0,247.7) scale(1.18,1)" font-family="Liberation Serif" font-weight="bold" text-rendering="geometricPrecision" stroke="#000" stroke-width="0.3" font-size="13.3" text-anchor="middle">-60</text>
<text transform="translate(162.45000000000002,247.7) scale(1.18,1)" font-family="Liberation Serif" font-weight="bold" text-rendering="geometricPrecision" stroke="#000" stroke-width="0.3" font-size="13.3" text-anchor="middle">240</text>
<text transform="translate(253.9,247.7) scale(1.18,1)" font-family="Liberation Serif" font-weight="bold" text-rendering="geometricPrecision" stroke="#000" stroke-width="0.3" font-size="13.3" text-anchor="middle">540</text>
<text transform="translate(345.35,247.7) scale(1.18,1)" font-family="Liberation Serif" font-weight="bold" text-rendering="geometricPrecision" stroke="#000" stroke-width="0.3" font-size="13.3" text-anchor="middle">840</text>
<text transform="translate(436.80000000000007,247.7) scale(1.18,1)" font-family="Liberation Serif" font-weight="bold" text-rendering="geometricPrecision" stroke="#000" stroke-width="0.3" font-size="13.3" text-anchor="middle">1140</text>
<text transform="translate(58.9,550.0) scale(1.1,1)" font-family="Liberation Serif" font-weight="bold" text-rendering="geometricPrecision" stroke="#000" stroke-width="0.3" font-size="17.0" text-anchor="end">0</text>
<text transform="translate(58.9,521.08) scale(1.1,1)" font-family="Liberation Serif" font-weight="bold" text-rendering="geometricPrecision" stroke="#000" stroke-width="0.3" font-size="17.0" text-anchor="end">20</text>
<text transform="translate(58.9,492.15999999999997) scale(1.1,1)" font-family="Liberation Serif" font-weight="bold" text-rendering="geometricPrecision" stroke="#000" stroke-width="0.3" font-size="17.0" text-anchor="end">40</text>
<text transform="translate(58.9,463.24) scale(1.1,1)" font-family="Liberation Serif" font-weight="bold" text-rendering="geometricPrecision" stroke="#000" stroke-width="0.3" font-size="17.0" text-anchor="end">60</text>
<text transform="translate(58.9,434.32) scale(1.1,1)" font-family="Liberation Serif" font-weight="bold" text-rendering="geometricPrecision" stroke="#000" stroke-width="0.3" font-size="17.0" text-anchor="end">80</text>
<text transform="translate(58.9,405.4) scale(1.1,1)" font-family="Liberation Serif" font-weight="bold" text-rendering="geometricPrecision" stroke="#000" stroke-width="0.3" font-size="17.0" text-anchor="end">100</text>
<text transform="translate(58.9,376.48) scale(1.1,1)" font-family="Liberation Serif" font-weight="bold" text-rendering="geometricPrecision" stroke="#000" stroke-width="0.3" font-size="17.0" text-anchor="end">120</text>
<text transform="translate(58.9,347.56) scale(1.1,1)" font-family="Liberation Serif" font-weight="bold" text-rendering="geometricPrecision" stroke="#000" stroke-width="0.3" font-size="17.0" text-anchor="end">140</text>
<text transform="translate(73.0,575.8) scale(1.11,1)" font-family="Liberation Serif" font-weight="bold" text-rendering="geometricPrecision" stroke="#000" stroke-width="0.3" font-size="16.5" text-anchor="middle">-60</text>
<text transform="translate(168.97000000000003,575.8) scale(1.11,1)" font-family="Liberation Serif" font-weight="bold" text-rendering="geometricPrecision" stroke="#000" stroke-width="0.3" font-size="16.5" text-anchor="middle">240</text>
<text transform="translate(264.94,575.8) scale(1.11,1)" font-family="Liberation Serif" font-weight="bold" text-rendering="geometricPrecision" stroke="#000" stroke-width="0.3" font-size="16.5" text-anchor="middle">540</text>
<text transform="translate(360.90999999999997,575.8) scale(1.11,1)" font-family="Liberation Serif" font-weight="bold" text-rendering="geometricPrecision" stroke="#000" stroke-width="0.3" font-size="16.5" text-anchor="middle">840</text>
<text transform="translate(456.88,575.8) scale(1.11,1)" font-family="Liberation Serif" font-weight="bold" text-rendering="geometricPrecision" stroke="#000" stroke-width="0.3" font-size="16.5" text-anchor="middle">1140</text>
<text transform="translate(214.3,274.3) scale(1.1,1)" font-family="Liberation Serif" font-weight="bold" text-rendering="geometricPrecision" stroke="#000" stroke-width="0.3" font-size="20.5" text-anchor="start">Time</text>
<text transform="translate(272.1,274.3) scale(1.23,1)" font-family="Liberation Serif" font-weight="bold" text-rendering="geometricPrecision" stroke="#000" stroke-width="0.3" font-size="20.5" text-anchor="start">(s)</text>
<text transform="translate(271.8,609.2) scale(1.06,1)" font-family="Liberation Serif" font-weight="bold" text-rendering="geometricPrecision" stroke="#000" stroke-width="0.3" font-size="18.0" text-anchor="start">Time</text>
<text transform="translate(320.5,609.2) scale(1.28,1)" font-family="Liberation Serif" font-weight="bold" text-rendering="geometricPrecision" stroke="#000" stroke-width="0.3" font-size="18.0" text-anchor="start">(s)</text>
<text transform="translate(16.4,123.8) rotate(-90) scale(0.9,1.0)" font-family="Liberation Serif" font-weight="bold" text-rendering="geometricPrecision" stroke="#000" stroke-width="0.3" font-size="18.8" text-anchor="middle">Bound (RU)</text>
<text transform="translate(17.4,443.8) rotate(-90) scale(1.0,1.0)" font-family="Liberation Serif" font-weight="bold" text-rendering="geometricPrecision" stroke="#000" stroke-width="0.3" font-size="19.8" text-anchor="middle">Bound (RU)</text>
<text x="3.2" y="24.2" font-family="Liberation Sans" font-weight="bold" font-size="31">A</text>
<text x="1.5" y="327.8" font-family="Liberation Sans" font-weight="bold" font-size="29">B</text>
</svg>
</body></html>
